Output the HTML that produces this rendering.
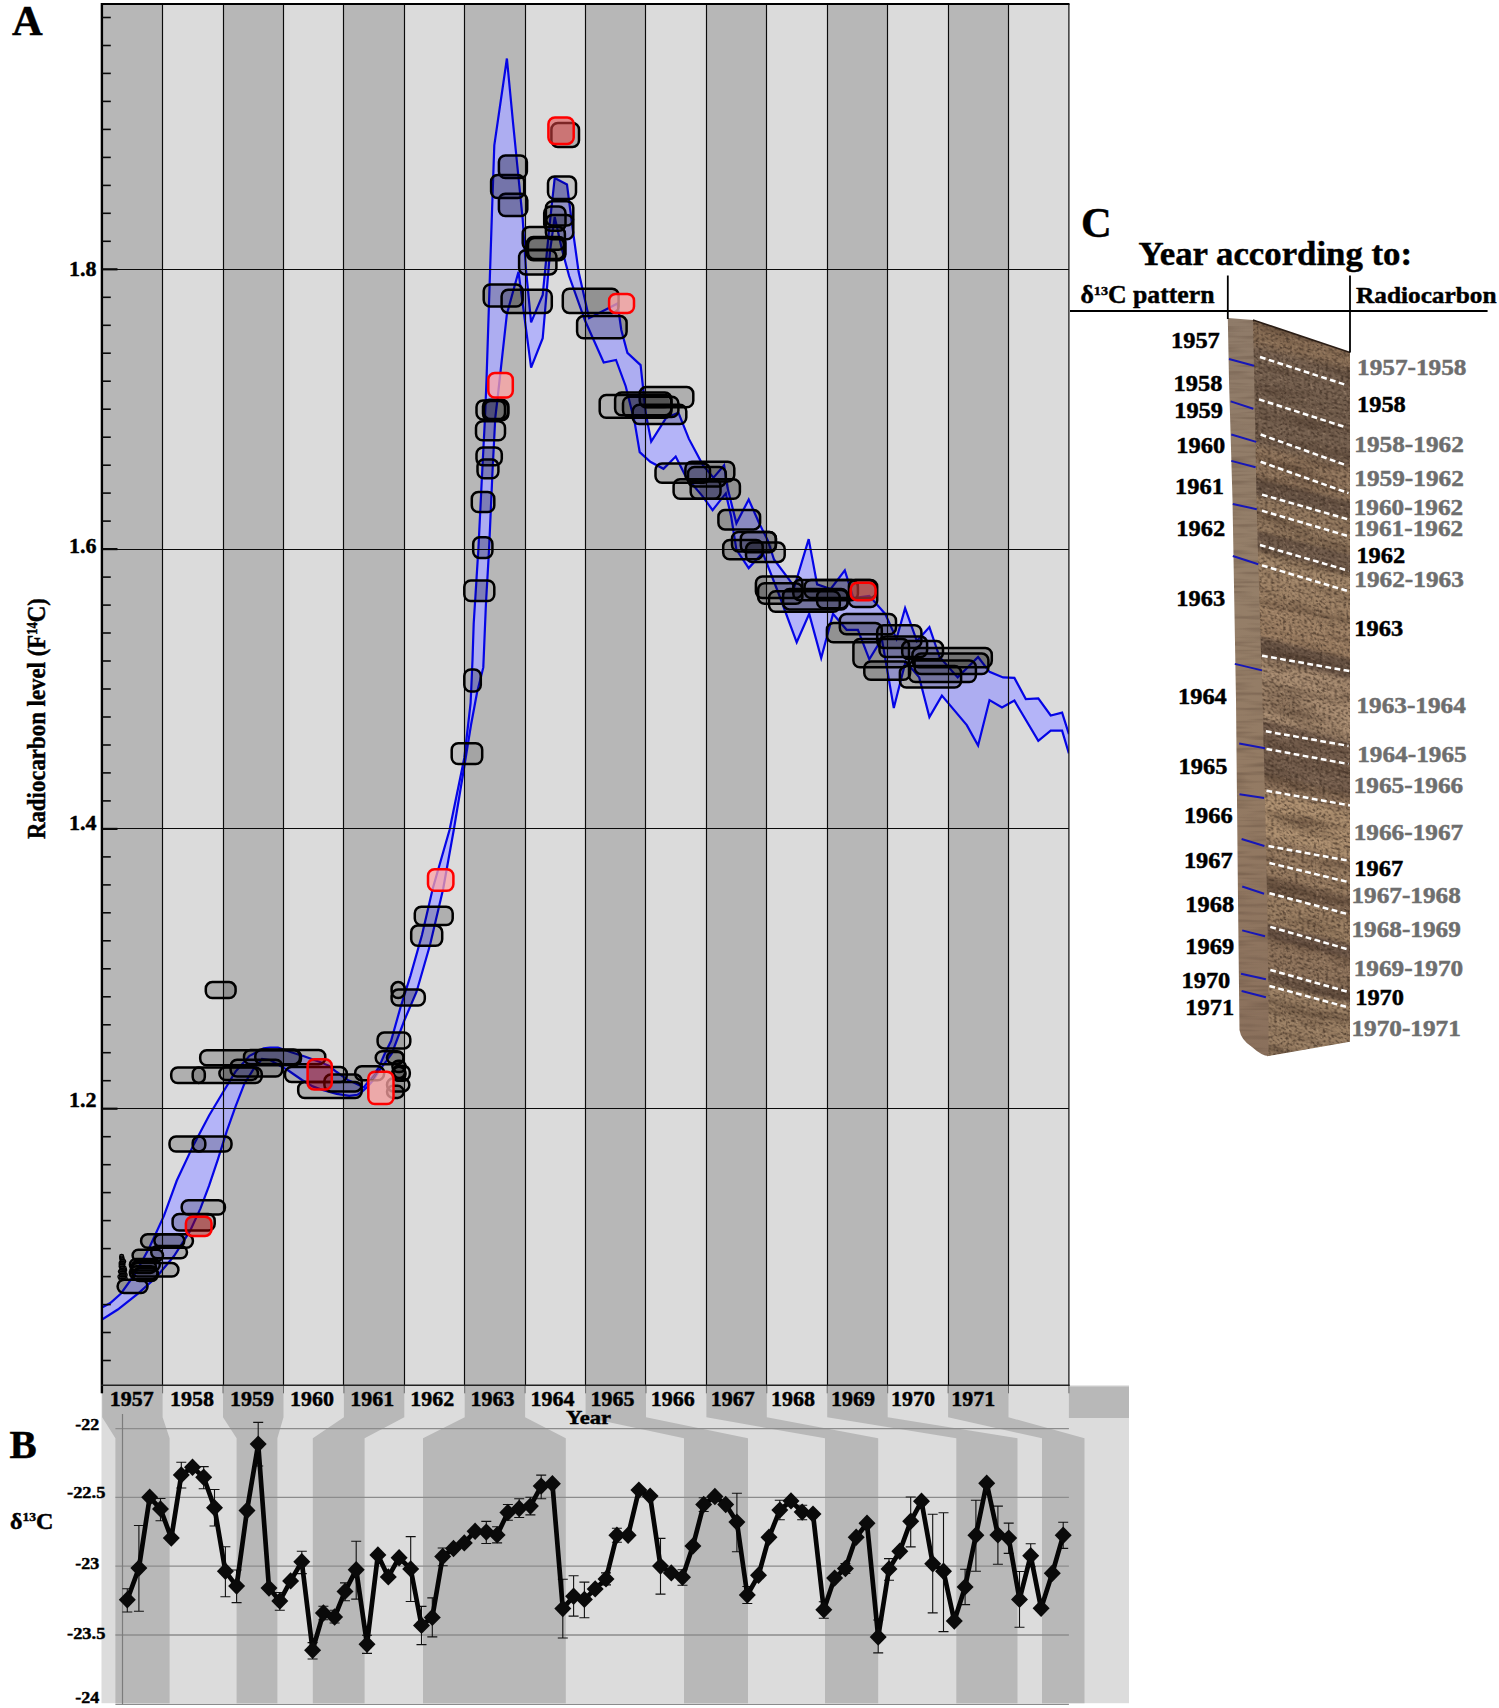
<!DOCTYPE html><html><head><meta charset="utf-8"><title>Figure</title><style>html,body{margin:0;padding:0;background:#fff}svg{display:block}text{font-family:"Liberation Serif",serif;font-weight:bold;fill:#000;stroke:#000;stroke-width:0.45px}</style></head><body>
<svg width="1499" height="1708" viewBox="0 0 1499 1708">
<rect width="1499" height="1708" fill="#fff"/>
<defs>
<clipPath id="cpA"><rect x="102.2" y="3.9" width="966.72" height="1381.3999999999999"/></clipPath>
<filter id="wood" x="0" y="0" width="100%" height="100%" color-interpolation-filters="sRGB"><feTurbulence type="fractalNoise" baseFrequency="0.33 0.42" numOctaves="2" seed="11" result="n"/><feTurbulence type="fractalNoise" baseFrequency="0.012 0.085" numOctaves="3" seed="5" result="n2"/><feColorMatrix in="n2" type="matrix" values="0 0 0 0 0  0 0 0 0 0  0 0 0 0 0  2.6 0 0 0 -1.22" result="a3"/><feFlood flood-color="#3c2a1e" flood-opacity="0.45" result="f3"/><feComposite in="f3" in2="a3" operator="in" result="sp3"/><feColorMatrix in="n" type="matrix" values="0 0 0 0 0  0 0 0 0 0  0 0 0 0 0  3.2 0 0 0 -1.45" result="a"/><feFlood flood-color="#35261c" flood-opacity="0.7" result="f"/><feComposite in="f" in2="a" operator="in" result="sp"/><feColorMatrix in="n" type="matrix" values="0 0 0 0 0  0 0 0 0 0  0 0 0 0 0  0 -3.2 0 0 1.35" result="a2"/><feFlood flood-color="#c9ad90" flood-opacity="0.5" result="f2"/><feComposite in="f2" in2="a2" operator="in" result="sp2"/><feMerge result="m"><feMergeNode in="SourceGraphic"/><feMergeNode in="sp3"/><feMergeNode in="sp2"/><feMergeNode in="sp"/></feMerge><feGaussianBlur in="m" stdDeviation="0.55"/></filter>
<filter id="strip" x="0" y="0" width="100%" height="100%" color-interpolation-filters="sRGB"><feTurbulence type="fractalNoise" baseFrequency="0.02 0.25" numOctaves="2" seed="3" result="n"/><feColorMatrix in="n" type="matrix" values="0 0 0 0 0  0 0 0 0 0  0 0 0 0 0  1.0 0 0 0 -0.45" result="a"/><feFlood flood-color="#5a4638" result="f"/><feComposite in="f" in2="a" operator="in" result="sp"/><feMerge><feMergeNode in="SourceGraphic"/><feMergeNode in="sp"/></feMerge></filter>
</defs>
<rect x="102.20" y="3.9" width="60.72" height="1381.4" fill="#b7b7b7"/>
<rect x="162.62" y="3.9" width="60.72" height="1381.4" fill="#dbdbdb"/>
<rect x="223.04" y="3.9" width="60.72" height="1381.4" fill="#b7b7b7"/>
<rect x="283.46" y="3.9" width="60.72" height="1381.4" fill="#dbdbdb"/>
<rect x="343.88" y="3.9" width="60.72" height="1381.4" fill="#b7b7b7"/>
<rect x="404.30" y="3.9" width="60.72" height="1381.4" fill="#dbdbdb"/>
<rect x="464.72" y="3.9" width="60.72" height="1381.4" fill="#b7b7b7"/>
<rect x="525.14" y="3.9" width="60.72" height="1381.4" fill="#dbdbdb"/>
<rect x="585.56" y="3.9" width="60.72" height="1381.4" fill="#b7b7b7"/>
<rect x="645.98" y="3.9" width="60.72" height="1381.4" fill="#dbdbdb"/>
<rect x="706.40" y="3.9" width="60.72" height="1381.4" fill="#b7b7b7"/>
<rect x="766.82" y="3.9" width="60.72" height="1381.4" fill="#dbdbdb"/>
<rect x="827.24" y="3.9" width="60.72" height="1381.4" fill="#b7b7b7"/>
<rect x="887.66" y="3.9" width="60.72" height="1381.4" fill="#dbdbdb"/>
<rect x="948.08" y="3.9" width="60.72" height="1381.4" fill="#b7b7b7"/>
<rect x="1008.50" y="3.9" width="60.72" height="1381.4" fill="#dbdbdb"/>
<rect x="101.5" y="1385.3" width="1027.5" height="317.9000000000001" fill="#dcdcdc"/>
<path d="M102.2,1385.3 L162.6,1385.3 L162.6,1417.3 L169.6,1438.3 L169.6,1703.2 L115.4,1703.2 L115.4,1438.3 L102.2,1417.3 Z" fill="#b8b8b8"/>
<path d="M223.0,1385.3 L283.5,1385.3 L283.5,1417.3 L277.4,1438.3 L277.4,1703.2 L236.6,1703.2 L236.6,1438.3 L223.0,1417.3 Z" fill="#b8b8b8"/>
<path d="M343.9,1385.3 L404.3,1385.3 L404.3,1417.3 L364.6,1438.3 L364.6,1703.2 L312.8,1703.2 L312.8,1438.3 L343.9,1417.3 Z" fill="#b8b8b8"/>
<path d="M464.7,1385.3 L525.1,1385.3 L525.1,1417.3 L565.8,1438.3 L565.8,1703.2 L423,1703.2 L423,1438.3 L464.7,1417.3 Z" fill="#b8b8b8"/>
<path d="M585.6,1385.3 L646.0,1385.3 L646.0,1417.3 L748,1438.3 L748,1703.2 L684,1703.2 L684,1438.3 L585.6,1417.3 Z" fill="#b8b8b8"/>
<path d="M706.4,1385.3 L766.8,1385.3 L766.8,1417.3 L878.2,1438.3 L878.2,1703.2 L825,1703.2 L825,1438.3 L706.4,1417.3 Z" fill="#b8b8b8"/>
<path d="M827.2,1385.3 L887.7,1385.3 L887.7,1417.3 L1017.5,1438.3 L1017.5,1703.2 L956.3,1703.2 L956.3,1438.3 L827.2,1417.3 Z" fill="#b8b8b8"/>
<path d="M948.1,1385.3 L1008.5,1385.3 L1008.5,1417.3 L1084.5,1438.3 L1084.5,1703.2 L1042,1703.2 L1042,1438.3 L948.1,1417.3 Z" fill="#b8b8b8"/>
<rect x="1068.9" y="1386.5" width="60.1" height="31.5" fill="#b8b8b8"/>
<line x1="102.2" y1="1385.3" x2="102.2" y2="1393.3" stroke="#6a6a6a" stroke-width="1"/>
<line x1="162.6" y1="1385.3" x2="162.6" y2="1393.3" stroke="#6a6a6a" stroke-width="1"/>
<line x1="223.0" y1="1385.3" x2="223.0" y2="1393.3" stroke="#6a6a6a" stroke-width="1"/>
<line x1="283.5" y1="1385.3" x2="283.5" y2="1393.3" stroke="#6a6a6a" stroke-width="1"/>
<line x1="343.9" y1="1385.3" x2="343.9" y2="1393.3" stroke="#6a6a6a" stroke-width="1"/>
<line x1="404.3" y1="1385.3" x2="404.3" y2="1393.3" stroke="#6a6a6a" stroke-width="1"/>
<line x1="464.7" y1="1385.3" x2="464.7" y2="1393.3" stroke="#6a6a6a" stroke-width="1"/>
<line x1="525.1" y1="1385.3" x2="525.1" y2="1393.3" stroke="#6a6a6a" stroke-width="1"/>
<line x1="585.6" y1="1385.3" x2="585.6" y2="1393.3" stroke="#6a6a6a" stroke-width="1"/>
<line x1="646.0" y1="1385.3" x2="646.0" y2="1393.3" stroke="#6a6a6a" stroke-width="1"/>
<line x1="706.4" y1="1385.3" x2="706.4" y2="1393.3" stroke="#6a6a6a" stroke-width="1"/>
<line x1="766.8" y1="1385.3" x2="766.8" y2="1393.3" stroke="#6a6a6a" stroke-width="1"/>
<line x1="827.2" y1="1385.3" x2="827.2" y2="1393.3" stroke="#6a6a6a" stroke-width="1"/>
<line x1="887.7" y1="1385.3" x2="887.7" y2="1393.3" stroke="#6a6a6a" stroke-width="1"/>
<line x1="948.1" y1="1385.3" x2="948.1" y2="1393.3" stroke="#6a6a6a" stroke-width="1"/>
<line x1="1008.5" y1="1385.3" x2="1008.5" y2="1393.3" stroke="#6a6a6a" stroke-width="1"/>
<line x1="1068.9" y1="1385.3" x2="1068.9" y2="1393.3" stroke="#6a6a6a" stroke-width="1"/>
<clipPath id="cpBand"><path d="M102.4,1307.2 L110.3,1303.1 L121.0,1293.5 L135.4,1273.5 L149.5,1247.2 L164.0,1215.6 L176.8,1180.5 L193.3,1145.4 L209.1,1115.5 L222.7,1092.7 L235.5,1071.6 L249.5,1055.8 L263.6,1048.4 L270.0,1047.5 L278.0,1047.5 L291.3,1052.3 L304.7,1056.5 L318.0,1061.3 L328.7,1065.6 L336.7,1072.0 L347.7,1079.9 L357.4,1084.2 L363.8,1087.4 L368.0,1082.0 L373.4,1075.0 L378.7,1067.6 L384.0,1055.3 L391.0,1041.0 L400.5,1007.4 L410.5,975.6 L422.0,935.0 L432.7,888.7 L449.6,829.7 L464.3,758.0 L470.6,703.2 L472.5,660.0 L473.7,623.5 L478.4,548.6 L482.1,473.7 L485.0,417.5 L486.5,380.0 L489.0,303.4 L492.1,208.6 L494.3,145.4 L506.9,58.5 L513.2,124.3 L517.4,166.4 L522.7,219.1 L526.0,269.7 L531.1,322.4 L542.7,295.0 L549.1,229.7 L554.7,178.0 L567.0,184.4 L572.2,225.5 L578.6,271.8 L589.1,318.2 L617.5,303.4 L621.3,330.0 L627.4,352.8 L640.6,365.1 L645.9,414.0 L651.2,441.6 L666.1,417.8 L678.4,412.6 L688.9,438.9 L703.0,465.3 L713.5,477.6 L724.1,465.3 L727.6,488.1 L736.4,523.3 L748.7,499.5 L759.2,523.3 L768.0,540.8 L774.0,559.5 L794.4,586.7 L808.7,539.1 L817.1,584.4 L830.7,589.0 L844.8,570.4 L853.4,598.0 L869.3,595.8 L885.2,613.9 L896.5,638.9 L905.1,608.2 L916.9,641.1 L929.4,627.1 L939.6,657.0 L957.7,677.4 L978.1,657.0 L989.5,671.8 L1003.1,677.4 L1014.4,677.9 L1025.8,699.0 L1038.3,698.3 L1050.7,715.5 L1062.1,712.6 L1068.9,734.1 L1068.9,753.4 L1062.1,730.7 L1050.7,730.7 L1038.3,740.9 L1014.4,700.6 L1002.0,707.4 L989.5,700.1 L978.1,745.5 L966.8,725.1 L941.9,695.6 L929.4,717.1 L919.2,677.4 L905.6,661.5 L893.8,708.0 L881.8,638.9 L869.3,659.3 L857.9,629.8 L846.6,629.8 L833.0,613.9 L821.2,658.1 L809.2,613.9 L796.7,642.3 L778.6,593.5 L762.7,552.7 L748.7,568.1 L736.4,549.6 L731.1,516.2 L725.8,493.4 L712.6,510.1 L703.0,496.9 L685.4,475.8 L675.7,456.5 L663.5,468.8 L650.3,461.8 L639.7,452.1 L634.5,421.4 L625.7,386.2 L616.0,359.9 L603.7,362.5 L584.9,320.3 L569.1,276.0 L561.7,248.6 L554.7,217.0 L550.1,250.7 L544.8,314.0 L542.7,338.2 L531.1,367.7 L518.5,271.8 L506.9,314.0 L497.4,400.0 L495.3,417.5 L492.4,473.7 L489.1,548.6 L485.9,604.8 L483.3,667.4 L477.0,692.7 L471.0,725.0 L464.3,766.5 L453.8,829.7 L443.2,888.7 L430.0,945.0 L416.5,992.0 L404.5,1020.0 L392.0,1053.2 L386.7,1060.7 L381.4,1067.6 L373.4,1079.9 L368.0,1086.3 L362.7,1091.1 L357.4,1094.8 L349.3,1095.9 L336.7,1093.9 L323.4,1090.2 L312.7,1086.4 L302.0,1080.0 L287.6,1070.0 L270.0,1060.0 L262.0,1059.0 L253.0,1069.9 L244.3,1083.9 L235.5,1106.7 L226.7,1131.3 L217.9,1159.4 L209.1,1185.7 L200.4,1208.6 L189.8,1231.4 L174.0,1256.0 L156.5,1277.0 L138.9,1292.8 L117.8,1309.5 L102.4,1319.2 Z"/></clipPath>
<g clip-path="url(#cpA)">
<path d="M102.4,1307.2 L110.3,1303.1 L121.0,1293.5 L135.4,1273.5 L149.5,1247.2 L164.0,1215.6 L176.8,1180.5 L193.3,1145.4 L209.1,1115.5 L222.7,1092.7 L235.5,1071.6 L249.5,1055.8 L263.6,1048.4 L270.0,1047.5 L278.0,1047.5 L291.3,1052.3 L304.7,1056.5 L318.0,1061.3 L328.7,1065.6 L336.7,1072.0 L347.7,1079.9 L357.4,1084.2 L363.8,1087.4 L368.0,1082.0 L373.4,1075.0 L378.7,1067.6 L384.0,1055.3 L391.0,1041.0 L400.5,1007.4 L410.5,975.6 L422.0,935.0 L432.7,888.7 L449.6,829.7 L464.3,758.0 L470.6,703.2 L472.5,660.0 L473.7,623.5 L478.4,548.6 L482.1,473.7 L485.0,417.5 L486.5,380.0 L489.0,303.4 L492.1,208.6 L494.3,145.4 L506.9,58.5 L513.2,124.3 L517.4,166.4 L522.7,219.1 L526.0,269.7 L531.1,322.4 L542.7,295.0 L549.1,229.7 L554.7,178.0 L567.0,184.4 L572.2,225.5 L578.6,271.8 L589.1,318.2 L617.5,303.4 L621.3,330.0 L627.4,352.8 L640.6,365.1 L645.9,414.0 L651.2,441.6 L666.1,417.8 L678.4,412.6 L688.9,438.9 L703.0,465.3 L713.5,477.6 L724.1,465.3 L727.6,488.1 L736.4,523.3 L748.7,499.5 L759.2,523.3 L768.0,540.8 L774.0,559.5 L794.4,586.7 L808.7,539.1 L817.1,584.4 L830.7,589.0 L844.8,570.4 L853.4,598.0 L869.3,595.8 L885.2,613.9 L896.5,638.9 L905.1,608.2 L916.9,641.1 L929.4,627.1 L939.6,657.0 L957.7,677.4 L978.1,657.0 L989.5,671.8 L1003.1,677.4 L1014.4,677.9 L1025.8,699.0 L1038.3,698.3 L1050.7,715.5 L1062.1,712.6 L1068.9,734.1 L1068.9,753.4 L1062.1,730.7 L1050.7,730.7 L1038.3,740.9 L1014.4,700.6 L1002.0,707.4 L989.5,700.1 L978.1,745.5 L966.8,725.1 L941.9,695.6 L929.4,717.1 L919.2,677.4 L905.6,661.5 L893.8,708.0 L881.8,638.9 L869.3,659.3 L857.9,629.8 L846.6,629.8 L833.0,613.9 L821.2,658.1 L809.2,613.9 L796.7,642.3 L778.6,593.5 L762.7,552.7 L748.7,568.1 L736.4,549.6 L731.1,516.2 L725.8,493.4 L712.6,510.1 L703.0,496.9 L685.4,475.8 L675.7,456.5 L663.5,468.8 L650.3,461.8 L639.7,452.1 L634.5,421.4 L625.7,386.2 L616.0,359.9 L603.7,362.5 L584.9,320.3 L569.1,276.0 L561.7,248.6 L554.7,217.0 L550.1,250.7 L544.8,314.0 L542.7,338.2 L531.1,367.7 L518.5,271.8 L506.9,314.0 L497.4,400.0 L495.3,417.5 L492.4,473.7 L489.1,548.6 L485.9,604.8 L483.3,667.4 L477.0,692.7 L471.0,725.0 L464.3,766.5 L453.8,829.7 L443.2,888.7 L430.0,945.0 L416.5,992.0 L404.5,1020.0 L392.0,1053.2 L386.7,1060.7 L381.4,1067.6 L373.4,1079.9 L368.0,1086.3 L362.7,1091.1 L357.4,1094.8 L349.3,1095.9 L336.7,1093.9 L323.4,1090.2 L312.7,1086.4 L302.0,1080.0 L287.6,1070.0 L270.0,1060.0 L262.0,1059.0 L253.0,1069.9 L244.3,1083.9 L235.5,1106.7 L226.7,1131.3 L217.9,1159.4 L209.1,1185.7 L200.4,1208.6 L189.8,1231.4 L174.0,1256.0 L156.5,1277.0 L138.9,1292.8 L117.8,1309.5 L102.4,1319.2 Z" fill="#aaaaff" fill-opacity="0.8" stroke="none"/>
<polyline points="102.4,1307.2 110.3,1303.1 121.0,1293.5 135.4,1273.5 149.5,1247.2 164.0,1215.6 176.8,1180.5 193.3,1145.4 209.1,1115.5 222.7,1092.7 235.5,1071.6 249.5,1055.8 263.6,1048.4 270.0,1047.5 278.0,1047.5 291.3,1052.3 304.7,1056.5 318.0,1061.3 328.7,1065.6 336.7,1072.0 347.7,1079.9 357.4,1084.2 363.8,1087.4 368.0,1082.0 373.4,1075.0 378.7,1067.6 384.0,1055.3 391.0,1041.0 400.5,1007.4 410.5,975.6 422.0,935.0 432.7,888.7 449.6,829.7 464.3,758.0 470.6,703.2 472.5,660.0 473.7,623.5 478.4,548.6 482.1,473.7 485.0,417.5 486.5,380.0 489.0,303.4 492.1,208.6 494.3,145.4 506.9,58.5 513.2,124.3 517.4,166.4 522.7,219.1 526.0,269.7 531.1,322.4 542.7,295.0 549.1,229.7 554.7,178.0 567.0,184.4 572.2,225.5 578.6,271.8 589.1,318.2 617.5,303.4 621.3,330.0 627.4,352.8 640.6,365.1 645.9,414.0 651.2,441.6 666.1,417.8 678.4,412.6 688.9,438.9 703.0,465.3 713.5,477.6 724.1,465.3 727.6,488.1 736.4,523.3 748.7,499.5 759.2,523.3 768.0,540.8 774.0,559.5 794.4,586.7 808.7,539.1 817.1,584.4 830.7,589.0 844.8,570.4 853.4,598.0 869.3,595.8 885.2,613.9 896.5,638.9 905.1,608.2 916.9,641.1 929.4,627.1 939.6,657.0 957.7,677.4 978.1,657.0 989.5,671.8 1003.1,677.4 1014.4,677.9 1025.8,699.0 1038.3,698.3 1050.7,715.5 1062.1,712.6 1068.9,734.1" fill="none" stroke="#0505e6" stroke-width="2.2" stroke-linejoin="miter"/>
<polyline points="102.4,1319.2 117.8,1309.5 138.9,1292.8 156.5,1277.0 174.0,1256.0 189.8,1231.4 200.4,1208.6 209.1,1185.7 217.9,1159.4 226.7,1131.3 235.5,1106.7 244.3,1083.9 253.0,1069.9 262.0,1059.0 270.0,1060.0 287.6,1070.0 302.0,1080.0 312.7,1086.4 323.4,1090.2 336.7,1093.9 349.3,1095.9 357.4,1094.8 362.7,1091.1 368.0,1086.3 373.4,1079.9 381.4,1067.6 386.7,1060.7 392.0,1053.2 404.5,1020.0 416.5,992.0 430.0,945.0 443.2,888.7 453.8,829.7 464.3,766.5 471.0,725.0 477.0,692.7 483.3,667.4 485.9,604.8 489.1,548.6 492.4,473.7 495.3,417.5 497.4,400.0 506.9,314.0 518.5,271.8 531.1,367.7 542.7,338.2 544.8,314.0 550.1,250.7 554.7,217.0 561.7,248.6 569.1,276.0 584.9,320.3 603.7,362.5 616.0,359.9 625.7,386.2 634.5,421.4 639.7,452.1 650.3,461.8 663.5,468.8 675.7,456.5 685.4,475.8 703.0,496.9 712.6,510.1 725.8,493.4 731.1,516.2 736.4,549.6 748.7,568.1 762.7,552.7 778.6,593.5 796.7,642.3 809.2,613.9 821.2,658.1 833.0,613.9 846.6,629.8 857.9,629.8 869.3,659.3 881.8,638.9 893.8,708.0 905.6,661.5 919.2,677.4 929.4,717.1 941.9,695.6 966.8,725.1 978.1,745.5 989.5,700.1 1002.0,707.4 1014.4,700.6 1038.3,740.9 1050.7,730.7 1062.1,730.7 1068.9,753.4" fill="none" stroke="#0505e6" stroke-width="2.2" stroke-linejoin="miter"/>
</g>
<line x1="162.50" y1="3.9" x2="162.50" y2="1385.3" stroke="#0a0a0a" stroke-width="1.15"/>
<line x1="223.50" y1="3.9" x2="223.50" y2="1385.3" stroke="#0a0a0a" stroke-width="1.15"/>
<line x1="283.50" y1="3.9" x2="283.50" y2="1385.3" stroke="#0a0a0a" stroke-width="1.15"/>
<line x1="343.50" y1="3.9" x2="343.50" y2="1385.3" stroke="#0a0a0a" stroke-width="1.15"/>
<line x1="404.50" y1="3.9" x2="404.50" y2="1385.3" stroke="#0a0a0a" stroke-width="1.15"/>
<line x1="464.50" y1="3.9" x2="464.50" y2="1385.3" stroke="#0a0a0a" stroke-width="1.15"/>
<line x1="525.50" y1="3.9" x2="525.50" y2="1385.3" stroke="#0a0a0a" stroke-width="1.15"/>
<line x1="585.50" y1="3.9" x2="585.50" y2="1385.3" stroke="#0a0a0a" stroke-width="1.15"/>
<line x1="645.50" y1="3.9" x2="645.50" y2="1385.3" stroke="#0a0a0a" stroke-width="1.15"/>
<line x1="706.50" y1="3.9" x2="706.50" y2="1385.3" stroke="#0a0a0a" stroke-width="1.15"/>
<line x1="766.50" y1="3.9" x2="766.50" y2="1385.3" stroke="#0a0a0a" stroke-width="1.15"/>
<line x1="827.50" y1="3.9" x2="827.50" y2="1385.3" stroke="#0a0a0a" stroke-width="1.15"/>
<line x1="887.50" y1="3.9" x2="887.50" y2="1385.3" stroke="#0a0a0a" stroke-width="1.15"/>
<line x1="948.50" y1="3.9" x2="948.50" y2="1385.3" stroke="#0a0a0a" stroke-width="1.15"/>
<line x1="1008.50" y1="3.9" x2="1008.50" y2="1385.3" stroke="#0a0a0a" stroke-width="1.15"/>
<line x1="102.2" y1="1108.5" x2="1068.9" y2="1108.5" stroke="#0a0a0a" stroke-width="1.15"/>
<line x1="102.2" y1="828.5" x2="1068.9" y2="828.5" stroke="#0a0a0a" stroke-width="1.15"/>
<line x1="102.2" y1="549.5" x2="1068.9" y2="549.5" stroke="#0a0a0a" stroke-width="1.15"/>
<line x1="102.2" y1="269.5" x2="1068.9" y2="269.5" stroke="#0a0a0a" stroke-width="1.15"/>
<rect x="181.7" y="1200.2" width="43.2" height="14.4" rx="6.5" fill="rgba(0,0,0,0.2)" stroke="#000" stroke-width="2.5"/>
<rect x="172.6" y="1214.0" width="42.1" height="16.6" rx="6.5" fill="rgba(0,0,0,0.2)" stroke="#000" stroke-width="2.5"/>
<rect x="141.1" y="1234.3" width="51.8" height="13.4" rx="6.5" fill="rgba(0,0,0,0.2)" stroke="#000" stroke-width="2.5"/>
<rect x="154.4" y="1234.3" width="29.9" height="12.8" rx="6.4" fill="rgba(0,0,0,0.2)" stroke="#000" stroke-width="2.5"/>
<rect x="151.2" y="1246.1" width="35.8" height="12.2" rx="6.1" fill="rgba(0,0,0,0.2)" stroke="#000" stroke-width="2.5"/>
<rect x="132.6" y="1249.8" width="30.4" height="11.2" rx="5.6" fill="rgba(0,0,0,0.2)" stroke="#000" stroke-width="2.5"/>
<rect x="129.9" y="1258.9" width="29.9" height="11.7" rx="5.8" fill="rgba(0,0,0,0.2)" stroke="#000" stroke-width="2.5"/>
<rect x="131.0" y="1263.1" width="47.4" height="13.4" rx="6.5" fill="rgba(0,0,0,0.2)" stroke="#000" stroke-width="2.5"/>
<rect x="129.9" y="1266.3" width="27.7" height="12.9" rx="6.5" fill="rgba(0,0,0,0.2)" stroke="#000" stroke-width="2.5"/>
<rect x="131.5" y="1261.0" width="24.5" height="12.0" rx="6.0" fill="rgba(0,0,0,0.2)" stroke="#000" stroke-width="2.5"/>
<rect x="133.0" y="1268.0" width="25.0" height="13.0" rx="6.5" fill="rgba(0,0,0,0.2)" stroke="#000" stroke-width="2.5"/>
<rect x="117.6" y="1279.7" width="29.9" height="13.3" rx="6.5" fill="rgba(0,0,0,0.2)" stroke="#000" stroke-width="2.5"/>
<rect x="169.5" y="1136.5" width="62.0" height="15.0" rx="6.5" fill="rgba(0,0,0,0.2)" stroke="#000" stroke-width="2.5"/>
<rect x="192.7" y="1136.5" width="12.6" height="15.0" rx="6.3" fill="rgba(0,0,0,0.2)" stroke="#000" stroke-width="2.5"/>
<rect x="205.8" y="982.1" width="29.8" height="15.9" rx="6.5" fill="rgba(0,0,0,0.2)" stroke="#000" stroke-width="2.5"/>
<rect x="200.2" y="1050.3" width="100.8" height="15.0" rx="6.5" fill="rgba(0,0,0,0.2)" stroke="#000" stroke-width="2.5"/>
<rect x="244.0" y="1050.0" width="81.3" height="14.3" rx="6.5" fill="rgba(0,0,0,0.2)" stroke="#000" stroke-width="2.5"/>
<rect x="255.3" y="1049.4" width="44.7" height="14.9" rx="6.5" fill="rgba(0,0,0,0.2)" stroke="#000" stroke-width="2.5"/>
<rect x="171.2" y="1067.5" width="90.6" height="15.5" rx="6.5" fill="rgba(0,0,0,0.2)" stroke="#000" stroke-width="2.5"/>
<rect x="192.7" y="1067.5" width="12.1" height="15.5" rx="6.1" fill="rgba(0,0,0,0.2)" stroke="#000" stroke-width="2.5"/>
<rect x="219.4" y="1067.0" width="38.6" height="13.0" rx="6.5" fill="rgba(0,0,0,0.2)" stroke="#000" stroke-width="2.5"/>
<rect x="230.6" y="1059.7" width="51.7" height="16.8" rx="6.5" fill="rgba(0,0,0,0.2)" stroke="#000" stroke-width="2.5"/>
<rect x="285.0" y="1067.0" width="61.8" height="15.0" rx="6.5" fill="rgba(0,0,0,0.2)" stroke="#000" stroke-width="2.5"/>
<rect x="298.2" y="1082.0" width="63.5" height="16.0" rx="6.5" fill="rgba(0,0,0,0.2)" stroke="#000" stroke-width="2.5"/>
<rect x="324.4" y="1074.6" width="37.3" height="16.8" rx="6.5" fill="rgba(0,0,0,0.2)" stroke="#000" stroke-width="2.5"/>
<rect x="355.2" y="1066.2" width="28.9" height="14.0" rx="6.5" fill="rgba(0,0,0,0.1)" stroke="#000" stroke-width="2.5"/>
<rect x="377.6" y="1032.6" width="32.7" height="15.8" rx="6.5" fill="rgba(0,0,0,0.1)" stroke="#000" stroke-width="2.5"/>
<rect x="375.7" y="1051.2" width="28.0" height="13.1" rx="6.5" fill="rgba(0,0,0,0.1)" stroke="#000" stroke-width="2.5"/>
<rect x="387.0" y="1052.0" width="16.7" height="11.5" rx="5.8" fill="rgba(0,0,0,0.2)" stroke="#000" stroke-width="2.5"/>
<rect x="391.6" y="982.1" width="13.1" height="15.9" rx="6.5" fill="rgba(0,0,0,0.1)" stroke="#000" stroke-width="2.5"/>
<rect x="391.6" y="989.6" width="33.2" height="15.9" rx="6.5" fill="rgba(0,0,0,0.1)" stroke="#000" stroke-width="2.5"/>
<rect x="392.4" y="1060.7" width="13.1" height="11.3" rx="5.6" fill="rgba(0,0,0,0.2)" stroke="#000" stroke-width="2.5"/>
<rect x="392.4" y="1066.7" width="13.1" height="14.1" rx="6.5" fill="rgba(0,0,0,0.2)" stroke="#000" stroke-width="2.5"/>
<rect x="393.5" y="1066.0" width="11.5" height="12.0" rx="5.8" fill="rgba(0,0,0,0.2)" stroke="#000" stroke-width="2.5"/>
<rect x="392.4" y="1065.8" width="17.4" height="15.0" rx="6.5" fill="rgba(0,0,0,0.1)" stroke="#000" stroke-width="2.5"/>
<rect x="387.0" y="1078.3" width="22.3" height="13.1" rx="6.5" fill="rgba(0,0,0,0.2)" stroke="#000" stroke-width="2.5"/>
<rect x="387.0" y="1085.8" width="16.7" height="12.1" rx="6.1" fill="rgba(0,0,0,0.2)" stroke="#000" stroke-width="2.5"/>
<rect x="464.3" y="669.5" width="16.5" height="22.1" rx="6.5" fill="rgba(0,0,0,0.03)" stroke="#000" stroke-width="2.5"/>
<rect x="451.7" y="743.3" width="30.5" height="20.7" rx="6.5" fill="rgba(0,0,0,0.1)" stroke="#000" stroke-width="2.5"/>
<rect x="414.8" y="906.7" width="37.9" height="18.3" rx="6.5" fill="rgba(0,0,0,0.2)" stroke="#000" stroke-width="2.5"/>
<rect x="411.2" y="925.6" width="31.0" height="20.1" rx="6.5" fill="rgba(0,0,0,0.2)" stroke="#000" stroke-width="2.5"/>
<rect x="476.5" y="400.5" width="28.5" height="19.0" rx="6.5" fill="rgba(0,0,0,0.03)" stroke="#000" stroke-width="2.5"/>
<rect x="483.0" y="399.7" width="25.4" height="20.6" rx="6.5" fill="rgba(0,0,0,0.2)" stroke="#000" stroke-width="2.5"/>
<rect x="484.0" y="401.0" width="24.0" height="18.0" rx="6.5" fill="rgba(0,0,0,0.2)" stroke="#000" stroke-width="2.5"/>
<rect x="476.0" y="421.2" width="29.0" height="19.1" rx="6.5" fill="rgba(0,0,0,0.03)" stroke="#000" stroke-width="2.5"/>
<rect x="476.5" y="447.4" width="25.3" height="17.8" rx="6.5" fill="rgba(0,0,0,0.03)" stroke="#000" stroke-width="2.5"/>
<rect x="477.5" y="459.6" width="20.9" height="18.7" rx="6.5" fill="rgba(0,0,0,0.03)" stroke="#000" stroke-width="2.5"/>
<rect x="471.8" y="492.0" width="22.5" height="20.0" rx="6.5" fill="rgba(0,0,0,0.03)" stroke="#000" stroke-width="2.5"/>
<rect x="473.2" y="537.3" width="19.2" height="20.6" rx="6.5" fill="rgba(0,0,0,0.03)" stroke="#000" stroke-width="2.5"/>
<rect x="464.3" y="580.4" width="30.0" height="20.6" rx="6.5" fill="rgba(0,0,0,0.03)" stroke="#000" stroke-width="2.5"/>
<rect x="551.4" y="122.9" width="27.6" height="24.0" rx="6.5" fill="rgba(0,0,0,0.2)" stroke="#000" stroke-width="2.5"/>
<rect x="498.9" y="155.5" width="28.0" height="22.5" rx="6.5" fill="rgba(0,0,0,0.1)" stroke="#000" stroke-width="2.5"/>
<rect x="491.1" y="174.9" width="33.1" height="23.2" rx="6.5" fill="rgba(0,0,0,0.1)" stroke="#000" stroke-width="2.5"/>
<rect x="498.9" y="193.8" width="28.4" height="22.2" rx="6.5" fill="rgba(0,0,0,0.1)" stroke="#000" stroke-width="2.5"/>
<rect x="548.0" y="176.6" width="28.0" height="22.5" rx="6.5" fill="rgba(0,0,0,0.1)" stroke="#000" stroke-width="2.5"/>
<rect x="545.9" y="201.2" width="27.4" height="24.3" rx="6.5" fill="rgba(0,0,0,0.2)" stroke="#000" stroke-width="2.5"/>
<rect x="544.2" y="206.5" width="21.3" height="24.2" rx="6.5" fill="rgba(0,0,0,0.2)" stroke="#000" stroke-width="2.5"/>
<rect x="545.9" y="214.9" width="27.4" height="24.3" rx="6.5" fill="rgba(0,0,0,0.2)" stroke="#000" stroke-width="2.5"/>
<rect x="522.7" y="227.1" width="42.2" height="22.6" rx="6.5" fill="rgba(0,0,0,0.2)" stroke="#000" stroke-width="2.5"/>
<rect x="526.9" y="237.0" width="38.6" height="23.2" rx="6.5" fill="rgba(0,0,0,0.2)" stroke="#000" stroke-width="2.5"/>
<rect x="528.0" y="238.0" width="36.0" height="21.0" rx="6.5" fill="rgba(0,0,0,0.2)" stroke="#000" stroke-width="2.5"/>
<rect x="519.1" y="250.3" width="37.3" height="24.1" rx="6.5" fill="rgba(0,0,0,0.2)" stroke="#000" stroke-width="2.5"/>
<rect x="483.7" y="284.5" width="39.0" height="22.1" rx="6.5" fill="rgba(0,0,0,0.2)" stroke="#000" stroke-width="2.5"/>
<rect x="501.6" y="289.7" width="50.2" height="23.2" rx="6.5" fill="rgba(0,0,0,0.2)" stroke="#000" stroke-width="2.5"/>
<rect x="562.8" y="288.7" width="55.8" height="24.2" rx="6.5" fill="rgba(0,0,0,0.2)" stroke="#000" stroke-width="2.5"/>
<rect x="577.1" y="316.1" width="49.5" height="22.1" rx="6.5" fill="rgba(0,0,0,0.2)" stroke="#000" stroke-width="2.5"/>
<rect x="599.7" y="395.0" width="71.7" height="22.8" rx="6.5" fill="rgba(0,0,0,0.03)" stroke="#000" stroke-width="2.5"/>
<rect x="615.1" y="392.4" width="56.3" height="22.8" rx="6.5" fill="rgba(0,0,0,0.2)" stroke="#000" stroke-width="2.5"/>
<rect x="623.0" y="396.8" width="55.4" height="20.2" rx="6.5" fill="rgba(0,0,0,0.2)" stroke="#000" stroke-width="2.5"/>
<rect x="639.7" y="387.1" width="53.6" height="20.2" rx="6.5" fill="rgba(0,0,0,0.2)" stroke="#000" stroke-width="2.5"/>
<rect x="632.7" y="404.7" width="53.6" height="19.3" rx="6.5" fill="rgba(0,0,0,0.2)" stroke="#000" stroke-width="2.5"/>
<rect x="639.7" y="396.8" width="30.3" height="12.2" rx="6.1" fill="rgba(0,0,0,0.22)" stroke="none" stroke-width="2.5"/>
<rect x="655.5" y="463.5" width="54.5" height="19.3" rx="6.5" fill="rgba(0,0,0,0.2)" stroke="#000" stroke-width="2.5"/>
<rect x="685.4" y="461.8" width="48.9" height="19.6" rx="6.5" fill="rgba(0,0,0,0.2)" stroke="#000" stroke-width="2.5"/>
<rect x="688.0" y="467.0" width="37.8" height="19.4" rx="6.5" fill="rgba(0,0,0,0.2)" stroke="#000" stroke-width="2.5"/>
<rect x="673.6" y="479.3" width="46.9" height="19.4" rx="6.5" fill="rgba(0,0,0,0.2)" stroke="#000" stroke-width="2.5"/>
<rect x="690.7" y="479.3" width="49.2" height="19.4" rx="6.5" fill="rgba(0,0,0,0.2)" stroke="#000" stroke-width="2.5"/>
<rect x="699.5" y="479.3" width="29.8" height="17.7" rx="6.5" fill="rgba(0,0,0,0.22)" stroke="none" stroke-width="2.5"/>
<rect x="718.4" y="510.1" width="41.7" height="19.3" rx="6.5" fill="rgba(0,0,0,0.2)" stroke="#000" stroke-width="2.5"/>
<rect x="732.0" y="532.0" width="43.9" height="19.4" rx="6.5" fill="rgba(0,0,0,0.2)" stroke="#000" stroke-width="2.5"/>
<rect x="740.8" y="532.0" width="35.1" height="20.2" rx="6.5" fill="rgba(0,0,0,0.2)" stroke="#000" stroke-width="2.5"/>
<rect x="723.2" y="540.0" width="39.5" height="19.3" rx="6.5" fill="rgba(0,0,0,0.2)" stroke="#000" stroke-width="2.5"/>
<rect x="746.0" y="542.6" width="38.7" height="19.3" rx="6.5" fill="rgba(0,0,0,0.2)" stroke="#000" stroke-width="2.5"/>
<rect x="746.0" y="541.0" width="26.0" height="11.0" rx="5.5" fill="rgba(0,0,0,0.22)" stroke="none" stroke-width="2.5"/>
<rect x="755.9" y="576.5" width="46.5" height="21.5" rx="6.5" fill="rgba(0,0,0,0.2)" stroke="#000" stroke-width="2.5"/>
<rect x="758.1" y="583.3" width="44.3" height="20.4" rx="6.5" fill="rgba(0,0,0,0.2)" stroke="#000" stroke-width="2.5"/>
<rect x="769.0" y="591.2" width="70.8" height="20.5" rx="6.5" fill="rgba(0,0,0,0.2)" stroke="#000" stroke-width="2.5"/>
<rect x="783.1" y="589.0" width="64.6" height="20.4" rx="6.5" fill="rgba(0,0,0,0.2)" stroke="#000" stroke-width="2.5"/>
<rect x="793.3" y="579.9" width="64.6" height="20.4" rx="6.5" fill="rgba(0,0,0,0.2)" stroke="#000" stroke-width="2.5"/>
<rect x="804.6" y="579.9" width="71.5" height="18.1" rx="6.5" fill="rgba(0,0,0,0.2)" stroke="#000" stroke-width="2.5"/>
<rect x="817.1" y="590.0" width="30.6" height="18.3" rx="6.5" fill="rgba(0,0,0,0.2)" stroke="#000" stroke-width="2.5"/>
<rect x="848.9" y="579.9" width="28.3" height="27.2" rx="6.5" fill="rgba(0,0,0,0.2)" stroke="#000" stroke-width="2.5"/>
<rect x="839.8" y="613.9" width="56.2" height="20.4" rx="6.5" fill="rgba(0,0,0,0.2)" stroke="#000" stroke-width="2.5"/>
<rect x="826.9" y="623.0" width="54.9" height="19.3" rx="6.5" fill="rgba(0,0,0,0.2)" stroke="#000" stroke-width="2.5"/>
<rect x="853.4" y="638.9" width="55.6" height="28.3" rx="6.5" fill="rgba(0,0,0,0.2)" stroke="#000" stroke-width="2.5"/>
<rect x="877.2" y="625.3" width="44.2" height="22.6" rx="6.5" fill="rgba(0,0,0,0.2)" stroke="#000" stroke-width="2.5"/>
<rect x="879.5" y="636.6" width="47.6" height="20.4" rx="6.5" fill="rgba(0,0,0,0.2)" stroke="#000" stroke-width="2.5"/>
<rect x="902.2" y="641.1" width="40.8" height="18.2" rx="6.5" fill="rgba(0,0,0,0.2)" stroke="#000" stroke-width="2.5"/>
<rect x="864.3" y="661.5" width="45.8" height="18.2" rx="6.5" fill="rgba(0,0,0,0.2)" stroke="#000" stroke-width="2.5"/>
<rect x="899.9" y="666.1" width="61.2" height="21.5" rx="6.5" fill="rgba(0,0,0,0.2)" stroke="#000" stroke-width="2.5"/>
<rect x="909.0" y="660.4" width="66.9" height="21.6" rx="6.5" fill="rgba(0,0,0,0.2)" stroke="#000" stroke-width="2.5"/>
<rect x="912.4" y="647.9" width="79.4" height="19.3" rx="6.5" fill="rgba(0,0,0,0.2)" stroke="#000" stroke-width="2.5"/>
<rect x="914.6" y="653.6" width="73.8" height="20.4" rx="6.5" fill="rgba(0,0,0,0.2)" stroke="#000" stroke-width="2.5"/>
<rect x="185.9" y="1216.7" width="25.6" height="19.2" rx="6.5" fill="rgba(170,0,0,0.45)" stroke="#f00" stroke-width="2.5"/>
<rect x="307.6" y="1059.3" width="24.2" height="30.2" rx="6.5" fill="rgba(170,0,0,0.45)" stroke="#f00" stroke-width="2.5"/>
<rect x="368.3" y="1071.8" width="25.2" height="32.3" rx="6.5" fill="rgba(255,165,165,0.74)" stroke="#f00" stroke-width="2.5"/>
<rect x="428.0" y="869.3" width="25.4" height="21.5" rx="6.5" fill="rgba(255,165,165,0.74)" stroke="#f00" stroke-width="2.5"/>
<rect x="488.3" y="373.0" width="24.5" height="24.5" rx="6.5" fill="rgba(255,165,165,0.74)" stroke="#f00" stroke-width="2.5"/>
<rect x="548.4" y="117.4" width="25.3" height="26.5" rx="6.5" fill="rgba(225,70,70,0.55)" stroke="#f00" stroke-width="2.5"/>
<rect x="609.1" y="294.0" width="24.9" height="18.9" rx="6.5" fill="rgba(255,165,165,0.74)" stroke="#f00" stroke-width="2.5"/>
<rect x="850.7" y="582.8" width="24.9" height="17.5" rx="6.5" fill="rgba(225,70,70,0.55)" stroke="#f00" stroke-width="2.5"/>
<g clip-path="url(#cpBand)">
<rect x="355.2" y="1066.2" width="28.9" height="14.0" rx="6.5" fill="rgba(0,0,30,0.25)"/>
<rect x="377.6" y="1032.6" width="32.7" height="15.8" rx="6.5" fill="rgba(0,0,30,0.25)"/>
<rect x="375.7" y="1051.2" width="28.0" height="13.1" rx="6.5" fill="rgba(0,0,30,0.25)"/>
<rect x="391.6" y="982.1" width="13.1" height="15.9" rx="6.5" fill="rgba(0,0,30,0.25)"/>
<rect x="391.6" y="989.6" width="33.2" height="15.9" rx="6.5" fill="rgba(0,0,30,0.25)"/>
<rect x="392.4" y="1065.8" width="17.4" height="15.0" rx="6.5" fill="rgba(0,0,30,0.25)"/>
<rect x="464.3" y="669.5" width="16.5" height="22.1" rx="6.5" fill="rgba(0,0,30,0.25)"/>
<rect x="451.7" y="743.3" width="30.5" height="20.7" rx="6.5" fill="rgba(0,0,30,0.25)"/>
<rect x="476.5" y="400.5" width="28.5" height="19.0" rx="6.5" fill="rgba(0,0,30,0.25)"/>
<rect x="476.0" y="421.2" width="29.0" height="19.1" rx="6.5" fill="rgba(0,0,30,0.25)"/>
<rect x="476.5" y="447.4" width="25.3" height="17.8" rx="6.5" fill="rgba(0,0,30,0.25)"/>
<rect x="477.5" y="459.6" width="20.9" height="18.7" rx="6.5" fill="rgba(0,0,30,0.25)"/>
<rect x="471.8" y="492.0" width="22.5" height="20.0" rx="6.5" fill="rgba(0,0,30,0.25)"/>
<rect x="473.2" y="537.3" width="19.2" height="20.6" rx="6.5" fill="rgba(0,0,30,0.25)"/>
<rect x="464.3" y="580.4" width="30.0" height="20.6" rx="6.5" fill="rgba(0,0,30,0.25)"/>
<rect x="498.9" y="155.5" width="28.0" height="22.5" rx="6.5" fill="rgba(0,0,30,0.25)"/>
<rect x="491.1" y="174.9" width="33.1" height="23.2" rx="6.5" fill="rgba(0,0,30,0.25)"/>
<rect x="498.9" y="193.8" width="28.4" height="22.2" rx="6.5" fill="rgba(0,0,30,0.25)"/>
<rect x="548.0" y="176.6" width="28.0" height="22.5" rx="6.5" fill="rgba(0,0,30,0.25)"/>
<rect x="599.7" y="395.0" width="71.7" height="22.8" rx="6.5" fill="rgba(0,0,30,0.25)"/>
</g>
<rect x="119.7" y="1254.5" width="3.8999999999999915" height="3.599999999999909" rx="1.8" fill="rgba(0,0,0,0.35)" stroke="#000" stroke-width="1.3"/>
<rect x="119.6" y="1256.2" width="4.400000000000006" height="3.599999999999909" rx="1.8" fill="rgba(0,0,0,0.35)" stroke="#000" stroke-width="1.3"/>
<rect x="120.1" y="1257.9" width="4.300000000000011" height="3.599999999999909" rx="1.8" fill="rgba(0,0,0,0.35)" stroke="#000" stroke-width="1.3"/>
<rect x="120.0" y="1259.6" width="5.700000000000003" height="3.6000000000001364" rx="1.8" fill="rgba(0,0,0,0.35)" stroke="#000" stroke-width="1.3"/>
<rect x="119.1" y="1261.3" width="5.800000000000011" height="3.6000000000001364" rx="1.8" fill="rgba(0,0,0,0.35)" stroke="#000" stroke-width="1.3"/>
<rect x="119.2" y="1263.0" width="5.799999999999997" height="3.599999999999909" rx="1.8" fill="rgba(0,0,0,0.35)" stroke="#000" stroke-width="1.3"/>
<rect x="119.1" y="1264.7" width="5.6000000000000085" height="3.599999999999909" rx="1.8" fill="rgba(0,0,0,0.35)" stroke="#000" stroke-width="1.3"/>
<rect x="120.2" y="1266.4" width="6.0" height="3.599999999999909" rx="1.8" fill="rgba(0,0,0,0.35)" stroke="#000" stroke-width="1.3"/>
<rect x="119.5" y="1268.1" width="7.099999999999994" height="3.6000000000001364" rx="1.8" fill="rgba(0,0,0,0.35)" stroke="#000" stroke-width="1.3"/>
<rect x="118.4" y="1269.8" width="7.3999999999999915" height="3.6000000000001364" rx="1.8" fill="rgba(0,0,0,0.35)" stroke="#000" stroke-width="1.3"/>
<rect x="119.3" y="1271.5" width="7.1000000000000085" height="3.599999999999909" rx="1.8" fill="rgba(0,0,0,0.35)" stroke="#000" stroke-width="1.3"/>
<rect x="119.3" y="1273.2" width="7.900000000000006" height="3.599999999999909" rx="1.8" fill="rgba(0,0,0,0.35)" stroke="#000" stroke-width="1.3"/>
<rect x="117.9" y="1274.9" width="8.399999999999991" height="3.599999999999909" rx="1.8" fill="rgba(0,0,0,0.35)" stroke="#000" stroke-width="1.3"/>
<rect x="118.8" y="1276.6" width="8.400000000000006" height="3.6000000000001364" rx="1.8" fill="rgba(0,0,0,0.35)" stroke="#000" stroke-width="1.3"/>
<line x1="101.2" y1="3.9" x2="1069.5" y2="3.9" stroke="#000" stroke-width="2"/>
<line x1="101.9" y1="2.9" x2="101.9" y2="1393.3" stroke="#000" stroke-width="2.4"/>
<line x1="1068.9" y1="3.9" x2="1068.9" y2="1386.1" stroke="#111" stroke-width="1.2"/>
<line x1="101.2" y1="1385.3" x2="1069.5" y2="1385.3" stroke="#222" stroke-width="1.6"/>
<line x1="102.2" y1="1360.5" x2="110.8" y2="1360.5" stroke="#0a0a0a" stroke-width="1.6"/>
<line x1="102.2" y1="1332.5" x2="110.8" y2="1332.5" stroke="#0a0a0a" stroke-width="1.6"/>
<line x1="102.2" y1="1304.6" x2="110.8" y2="1304.6" stroke="#0a0a0a" stroke-width="1.6"/>
<line x1="102.2" y1="1276.6" x2="110.8" y2="1276.6" stroke="#0a0a0a" stroke-width="1.6"/>
<line x1="102.2" y1="1248.6" x2="110.8" y2="1248.6" stroke="#0a0a0a" stroke-width="1.6"/>
<line x1="102.2" y1="1220.6" x2="110.8" y2="1220.6" stroke="#0a0a0a" stroke-width="1.6"/>
<line x1="102.2" y1="1192.6" x2="110.8" y2="1192.6" stroke="#0a0a0a" stroke-width="1.6"/>
<line x1="102.2" y1="1164.7" x2="110.8" y2="1164.7" stroke="#0a0a0a" stroke-width="1.6"/>
<line x1="102.2" y1="1136.7" x2="110.8" y2="1136.7" stroke="#0a0a0a" stroke-width="1.6"/>
<line x1="102.2" y1="1108.7" x2="117.5" y2="1108.7" stroke="#0a0a0a" stroke-width="2.2"/>
<line x1="102.2" y1="1080.7" x2="110.8" y2="1080.7" stroke="#0a0a0a" stroke-width="1.6"/>
<line x1="102.2" y1="1052.7" x2="110.8" y2="1052.7" stroke="#0a0a0a" stroke-width="1.6"/>
<line x1="102.2" y1="1024.8" x2="110.8" y2="1024.8" stroke="#0a0a0a" stroke-width="1.6"/>
<line x1="102.2" y1="996.8" x2="110.8" y2="996.8" stroke="#0a0a0a" stroke-width="1.6"/>
<line x1="102.2" y1="968.8" x2="110.8" y2="968.8" stroke="#0a0a0a" stroke-width="1.6"/>
<line x1="102.2" y1="940.8" x2="110.8" y2="940.8" stroke="#0a0a0a" stroke-width="1.6"/>
<line x1="102.2" y1="912.8" x2="110.8" y2="912.8" stroke="#0a0a0a" stroke-width="1.6"/>
<line x1="102.2" y1="884.9" x2="110.8" y2="884.9" stroke="#0a0a0a" stroke-width="1.6"/>
<line x1="102.2" y1="856.9" x2="110.8" y2="856.9" stroke="#0a0a0a" stroke-width="1.6"/>
<line x1="102.2" y1="828.9" x2="117.5" y2="828.9" stroke="#0a0a0a" stroke-width="2.2"/>
<line x1="102.2" y1="800.9" x2="110.8" y2="800.9" stroke="#0a0a0a" stroke-width="1.6"/>
<line x1="102.2" y1="772.9" x2="110.8" y2="772.9" stroke="#0a0a0a" stroke-width="1.6"/>
<line x1="102.2" y1="745.0" x2="110.8" y2="745.0" stroke="#0a0a0a" stroke-width="1.6"/>
<line x1="102.2" y1="717.0" x2="110.8" y2="717.0" stroke="#0a0a0a" stroke-width="1.6"/>
<line x1="102.2" y1="689.0" x2="110.8" y2="689.0" stroke="#0a0a0a" stroke-width="1.6"/>
<line x1="102.2" y1="661.0" x2="110.8" y2="661.0" stroke="#0a0a0a" stroke-width="1.6"/>
<line x1="102.2" y1="633.0" x2="110.8" y2="633.0" stroke="#0a0a0a" stroke-width="1.6"/>
<line x1="102.2" y1="605.1" x2="110.8" y2="605.1" stroke="#0a0a0a" stroke-width="1.6"/>
<line x1="102.2" y1="577.1" x2="110.8" y2="577.1" stroke="#0a0a0a" stroke-width="1.6"/>
<line x1="102.2" y1="549.1" x2="117.5" y2="549.1" stroke="#0a0a0a" stroke-width="2.2"/>
<line x1="102.2" y1="521.1" x2="110.8" y2="521.1" stroke="#0a0a0a" stroke-width="1.6"/>
<line x1="102.2" y1="493.1" x2="110.8" y2="493.1" stroke="#0a0a0a" stroke-width="1.6"/>
<line x1="102.2" y1="465.2" x2="110.8" y2="465.2" stroke="#0a0a0a" stroke-width="1.6"/>
<line x1="102.2" y1="437.2" x2="110.8" y2="437.2" stroke="#0a0a0a" stroke-width="1.6"/>
<line x1="102.2" y1="409.2" x2="110.8" y2="409.2" stroke="#0a0a0a" stroke-width="1.6"/>
<line x1="102.2" y1="381.2" x2="110.8" y2="381.2" stroke="#0a0a0a" stroke-width="1.6"/>
<line x1="102.2" y1="353.2" x2="110.8" y2="353.2" stroke="#0a0a0a" stroke-width="1.6"/>
<line x1="102.2" y1="325.3" x2="110.8" y2="325.3" stroke="#0a0a0a" stroke-width="1.6"/>
<line x1="102.2" y1="297.3" x2="110.8" y2="297.3" stroke="#0a0a0a" stroke-width="1.6"/>
<line x1="102.2" y1="269.3" x2="117.5" y2="269.3" stroke="#0a0a0a" stroke-width="2.2"/>
<line x1="102.2" y1="241.3" x2="110.8" y2="241.3" stroke="#0a0a0a" stroke-width="1.6"/>
<line x1="102.2" y1="213.3" x2="110.8" y2="213.3" stroke="#0a0a0a" stroke-width="1.6"/>
<line x1="102.2" y1="185.4" x2="110.8" y2="185.4" stroke="#0a0a0a" stroke-width="1.6"/>
<line x1="102.2" y1="157.4" x2="110.8" y2="157.4" stroke="#0a0a0a" stroke-width="1.6"/>
<line x1="102.2" y1="129.4" x2="110.8" y2="129.4" stroke="#0a0a0a" stroke-width="1.6"/>
<line x1="102.2" y1="101.4" x2="110.8" y2="101.4" stroke="#0a0a0a" stroke-width="1.6"/>
<line x1="102.2" y1="73.4" x2="110.8" y2="73.4" stroke="#0a0a0a" stroke-width="1.6"/>
<line x1="102.2" y1="45.5" x2="110.8" y2="45.5" stroke="#0a0a0a" stroke-width="1.6"/>
<line x1="102.2" y1="17.5" x2="110.8" y2="17.5" stroke="#0a0a0a" stroke-width="1.6"/>
<text x="96.6" y="1106.8" font-size="22" text-anchor="end">1.2</text>
<text x="96.6" y="829.7" font-size="22" text-anchor="end">1.4</text>
<text x="96.6" y="552.6" font-size="22" text-anchor="end">1.6</text>
<text x="96.6" y="275.5" font-size="22" text-anchor="end">1.8</text>
<text transform="translate(45.3,718.6) rotate(-90)" font-size="25.5" text-anchor="middle" textLength="241" lengthAdjust="spacingAndGlyphs">Radiocarbon level (F<tspan font-size="14" dy="-8.5">14</tspan><tspan dy="8.5">C)</tspan></text>
<text x="12" y="34.7" font-size="42.5">A</text>
<text x="131.8" y="1405.6" font-size="22" text-anchor="middle">1957</text>
<text x="191.9" y="1405.6" font-size="22" text-anchor="middle">1958</text>
<text x="252.0" y="1405.6" font-size="22" text-anchor="middle">1959</text>
<text x="312.1" y="1405.6" font-size="22" text-anchor="middle">1960</text>
<text x="372.2" y="1405.6" font-size="22" text-anchor="middle">1961</text>
<text x="432.3" y="1405.6" font-size="22" text-anchor="middle">1962</text>
<text x="492.4" y="1405.6" font-size="22" text-anchor="middle">1963</text>
<text x="552.5" y="1405.6" font-size="22" text-anchor="middle">1964</text>
<text x="612.6" y="1405.6" font-size="22" text-anchor="middle">1965</text>
<text x="672.7" y="1405.6" font-size="22" text-anchor="middle">1966</text>
<text x="732.8" y="1405.6" font-size="22" text-anchor="middle">1967</text>
<text x="792.9" y="1405.6" font-size="22" text-anchor="middle">1968</text>
<text x="853.0" y="1405.6" font-size="22" text-anchor="middle">1969</text>
<text x="913.1" y="1405.6" font-size="22" text-anchor="middle">1970</text>
<text x="973.2" y="1405.6" font-size="22" text-anchor="middle">1971</text>
<text x="588.5" y="1424.4" font-size="18.5" text-anchor="middle" textLength="45" lengthAdjust="spacingAndGlyphs">Year</text>
<line x1="115.4" y1="1428.6" x2="1068.9" y2="1428.6" stroke="#8c8c8c" stroke-width="1.3"/>
<line x1="115.4" y1="1497.4" x2="1068.9" y2="1497.4" stroke="#8c8c8c" stroke-width="1.3"/>
<line x1="115.4" y1="1566.2" x2="1068.9" y2="1566.2" stroke="#8c8c8c" stroke-width="1.3"/>
<line x1="115.4" y1="1635" x2="1068.9" y2="1635" stroke="#8c8c8c" stroke-width="1.3"/>
<line x1="115.4" y1="1704.3" x2="1068.9" y2="1704.3" stroke="#8c8c8c" stroke-width="1.3"/>
<line x1="122.5" y1="1414" x2="122.5" y2="1704.3" stroke="#7c7c7c" stroke-width="1.2"/>
<path d="M127.3,1588.8 V1612.0 M122.3,1588.8 h10 M122.3,1612.0 h10" stroke="#111" stroke-width="1.1" fill="none"/>
<path d="M138.9,1525.5 V1611.2 M133.9,1525.5 h10 M133.9,1611.2 h10" stroke="#111" stroke-width="1.1" fill="none"/>
<path d="M160.5,1498.5 V1520.8 M155.5,1498.5 h10 M155.5,1520.8 h10" stroke="#111" stroke-width="1.1" fill="none"/>
<path d="M181.3,1462.2 V1488.0 M176.3,1462.2 h10 M176.3,1488.0 h10" stroke="#111" stroke-width="1.1" fill="none"/>
<path d="M203.7,1466.6 V1488.7 M198.7,1466.6 h10 M198.7,1488.7 h10" stroke="#111" stroke-width="1.1" fill="none"/>
<path d="M214.5,1489.5 V1526.0 M209.5,1489.5 h10 M209.5,1526.0 h10" stroke="#111" stroke-width="1.1" fill="none"/>
<path d="M225.4,1546.7 V1596.8 M220.4,1546.7 h10 M220.4,1596.8 h10" stroke="#111" stroke-width="1.1" fill="none"/>
<path d="M236.6,1570.0 V1602.6 M231.6,1570.0 h10 M231.6,1602.6 h10" stroke="#111" stroke-width="1.1" fill="none"/>
<path d="M258.2,1422.4 V1466.0 M253.2,1422.4 h10 M253.2,1466.0 h10" stroke="#111" stroke-width="1.1" fill="none"/>
<path d="M279.8,1592.5 V1610.3 M274.8,1592.5 h10 M274.8,1610.3 h10" stroke="#111" stroke-width="1.1" fill="none"/>
<path d="M301.8,1551.2 V1573.6 M296.8,1551.2 h10 M296.8,1573.6 h10" stroke="#111" stroke-width="1.1" fill="none"/>
<path d="M312.6,1642.6 V1659.0 M307.6,1642.6 h10 M307.6,1659.0 h10" stroke="#111" stroke-width="1.1" fill="none"/>
<path d="M323.4,1606.2 V1619.8 M318.4,1606.2 h10 M318.4,1619.8 h10" stroke="#111" stroke-width="1.1" fill="none"/>
<path d="M334.6,1610.2 V1623.0 M329.6,1610.2 h10 M329.6,1623.0 h10" stroke="#111" stroke-width="1.1" fill="none"/>
<path d="M345.0,1582.9 V1600.7 M340.0,1582.9 h10 M340.0,1600.7 h10" stroke="#111" stroke-width="1.1" fill="none"/>
<path d="M356.2,1541.2 V1599.1 M351.2,1541.2 h10 M351.2,1599.1 h10" stroke="#111" stroke-width="1.1" fill="none"/>
<path d="M367.0,1635.2 V1653.4 M362.0,1635.2 h10 M362.0,1653.4 h10" stroke="#111" stroke-width="1.1" fill="none"/>
<path d="M410.7,1536.6 V1601.5 M405.7,1536.6 h10 M405.7,1601.5 h10" stroke="#111" stroke-width="1.1" fill="none"/>
<path d="M421.5,1606.4 V1644.6 M416.5,1606.4 h10 M416.5,1644.6 h10" stroke="#111" stroke-width="1.1" fill="none"/>
<path d="M432.3,1597.9 V1636.9 M427.3,1597.9 h10 M427.3,1636.9 h10" stroke="#111" stroke-width="1.1" fill="none"/>
<path d="M442.7,1548.0 V1565.8 M437.7,1548.0 h10 M437.7,1565.8 h10" stroke="#111" stroke-width="1.1" fill="none"/>
<path d="M486.3,1521.4 V1543.5 M481.3,1521.4 h10 M481.3,1543.5 h10" stroke="#111" stroke-width="1.1" fill="none"/>
<path d="M497.1,1526.7 V1542.9 M492.1,1526.7 h10 M492.1,1542.9 h10" stroke="#111" stroke-width="1.1" fill="none"/>
<path d="M507.9,1504.5 V1520.3 M502.9,1504.5 h10 M502.9,1520.3 h10" stroke="#111" stroke-width="1.1" fill="none"/>
<path d="M519.2,1498.8 V1517.5 M514.2,1498.8 h10 M514.2,1517.5 h10" stroke="#111" stroke-width="1.1" fill="none"/>
<path d="M530.4,1497.3 V1514.9 M525.4,1497.3 h10 M525.4,1514.9 h10" stroke="#111" stroke-width="1.1" fill="none"/>
<path d="M541.2,1475.1 V1498.8 M536.2,1475.1 h10 M536.2,1498.8 h10" stroke="#111" stroke-width="1.1" fill="none"/>
<path d="M562.8,1579.2 V1638.0 M557.8,1579.2 h10 M557.8,1638.0 h10" stroke="#111" stroke-width="1.1" fill="none"/>
<path d="M573.6,1575.8 V1616.1 M568.6,1575.8 h10 M568.6,1616.1 h10" stroke="#111" stroke-width="1.1" fill="none"/>
<path d="M584.4,1582.1 V1617.7 M579.4,1582.1 h10 M579.4,1617.7 h10" stroke="#111" stroke-width="1.1" fill="none"/>
<path d="M606.0,1572.9 V1584.9 M601.0,1572.9 h10 M601.0,1584.9 h10" stroke="#111" stroke-width="1.1" fill="none"/>
<path d="M616.9,1528.3 V1542.3 M611.9,1528.3 h10 M611.9,1542.3 h10" stroke="#111" stroke-width="1.1" fill="none"/>
<path d="M660.5,1538.4 V1594.1 M655.5,1538.4 h10 M655.5,1594.1 h10" stroke="#111" stroke-width="1.1" fill="none"/>
<path d="M682.5,1569.7 V1585.3 M677.5,1569.7 h10 M677.5,1585.3 h10" stroke="#111" stroke-width="1.1" fill="none"/>
<path d="M703.7,1497.7 V1511.5 M698.7,1497.7 h10 M698.7,1511.5 h10" stroke="#111" stroke-width="1.1" fill="none"/>
<path d="M736.9,1493.2 V1551.8 M731.9,1493.2 h10 M731.9,1551.8 h10" stroke="#111" stroke-width="1.1" fill="none"/>
<path d="M747.3,1586.5 V1603.5 M742.3,1586.5 h10 M742.3,1603.5 h10" stroke="#111" stroke-width="1.1" fill="none"/>
<path d="M779.8,1500.3 V1519.8 M774.8,1500.3 h10 M774.8,1519.8 h10" stroke="#111" stroke-width="1.1" fill="none"/>
<path d="M802.2,1505.3 V1519.7 M797.2,1505.3 h10 M797.2,1519.7 h10" stroke="#111" stroke-width="1.1" fill="none"/>
<path d="M823.8,1601.8 V1618.3 M818.8,1601.8 h10 M818.8,1618.3 h10" stroke="#111" stroke-width="1.1" fill="none"/>
<path d="M845.4,1563.5 V1573.5 M840.4,1563.5 h10 M840.4,1573.5 h10" stroke="#111" stroke-width="1.1" fill="none"/>
<path d="M878.2,1620.0 V1652.9 M873.2,1620.0 h10 M873.2,1652.9 h10" stroke="#111" stroke-width="1.1" fill="none"/>
<path d="M889.0,1558.6 V1580.2 M884.0,1558.6 h10 M884.0,1580.2 h10" stroke="#111" stroke-width="1.1" fill="none"/>
<path d="M910.7,1497.0 V1546.9 M905.7,1497.0 h10 M905.7,1546.9 h10" stroke="#111" stroke-width="1.1" fill="none"/>
<path d="M932.7,1514.2 V1612.9 M927.7,1514.2 h10 M927.7,1612.9 h10" stroke="#111" stroke-width="1.1" fill="none"/>
<path d="M943.5,1512.8 V1631.6 M938.5,1512.8 h10 M938.5,1631.6 h10" stroke="#111" stroke-width="1.1" fill="none"/>
<path d="M965.1,1569.2 V1604.6 M960.1,1569.2 h10 M960.1,1604.6 h10" stroke="#111" stroke-width="1.1" fill="none"/>
<path d="M975.9,1500.2 V1571.3 M970.9,1500.2 h10 M970.9,1571.3 h10" stroke="#111" stroke-width="1.1" fill="none"/>
<path d="M997.9,1506.1 V1564.3 M992.9,1506.1 h10 M992.9,1564.3 h10" stroke="#111" stroke-width="1.1" fill="none"/>
<path d="M1008.7,1523.1 V1553.4 M1003.7,1523.1 h10 M1003.7,1553.4 h10" stroke="#111" stroke-width="1.1" fill="none"/>
<path d="M1019.5,1571.5 V1627.3 M1014.5,1571.5 h10 M1014.5,1627.3 h10" stroke="#111" stroke-width="1.1" fill="none"/>
<path d="M1030.7,1543.8 V1566.7 M1025.7,1543.8 h10 M1025.7,1566.7 h10" stroke="#111" stroke-width="1.1" fill="none"/>
<path d="M1063.2,1522.2 V1548.4 M1058.2,1522.2 h10 M1058.2,1548.4 h10" stroke="#111" stroke-width="1.1" fill="none"/>
<polyline points="127.3,1599.8 138.9,1568.1 149.7,1497.3 160.5,1508.9 171.3,1538.1 181.3,1474.9 192.5,1467.3 203.7,1477.3 214.5,1507.7 225.4,1571.3 236.6,1586.1 247.0,1510.5 258.2,1444.1 269.0,1588.1 279.8,1601.0 290.6,1580.9 301.8,1561.7 312.6,1650.2 323.4,1613.0 334.6,1617.0 345.0,1591.4 356.2,1569.7 367.0,1644.2 377.9,1554.9 388.3,1576.9 399.1,1557.7 410.7,1568.9 421.5,1625.4 432.3,1617.4 442.7,1556.5 453.5,1548.5 464.3,1542.9 475.1,1531.3 486.3,1532.1 497.1,1534.9 507.9,1512.5 519.2,1508.5 530.4,1506.1 541.2,1486.1 552.4,1483.7 562.8,1608.6 573.6,1596.2 584.4,1599.4 595.2,1588.9 606.0,1578.9 616.9,1535.3 628.1,1535.3 638.9,1490.1 650.1,1496.1 660.5,1566.1 671.3,1572.9 682.5,1577.3 692.9,1546.1 703.7,1504.5 714.9,1496.5 725.7,1504.5 736.9,1522.1 747.3,1595.0 758.5,1575.3 769.0,1537.3 779.8,1510.1 791.0,1500.9 802.2,1512.1 813.0,1514.1 823.8,1609.8 834.6,1578.1 845.4,1568.5 856.2,1537.3 867.0,1523.3 878.2,1637.0 889.0,1568.9 899.8,1551.3 910.7,1521.3 921.5,1501.3 932.7,1563.7 943.5,1571.3 954.3,1621.0 965.1,1586.9 975.9,1535.3 986.7,1483.3 997.9,1534.9 1008.7,1538.1 1019.5,1599.4 1030.7,1555.7 1041.1,1608.2 1052.3,1573.3 1063.2,1535.3" fill="none" stroke="#050505" stroke-width="4.7" stroke-linejoin="round"/>
<path d="M127.3,1591.1 L135.8,1599.8 L127.3,1608.5 L118.8,1599.8 Z" fill="#0a0a0a"/>
<path d="M138.9,1559.4 L147.4,1568.1 L138.9,1576.8 L130.4,1568.1 Z" fill="#0a0a0a"/>
<path d="M149.7,1488.6 L158.2,1497.3 L149.7,1506.0 L141.2,1497.3 Z" fill="#0a0a0a"/>
<path d="M160.5,1500.2 L169.0,1508.9 L160.5,1517.6 L152.0,1508.9 Z" fill="#0a0a0a"/>
<path d="M171.3,1529.4 L179.8,1538.1 L171.3,1546.8 L162.8,1538.1 Z" fill="#0a0a0a"/>
<path d="M181.3,1466.2 L189.8,1474.9 L181.3,1483.6 L172.8,1474.9 Z" fill="#0a0a0a"/>
<path d="M192.5,1458.6 L201.0,1467.3 L192.5,1476.0 L184.0,1467.3 Z" fill="#0a0a0a"/>
<path d="M203.7,1468.6 L212.2,1477.3 L203.7,1486.0 L195.2,1477.3 Z" fill="#0a0a0a"/>
<path d="M214.5,1499.0 L223.0,1507.7 L214.5,1516.4 L206.0,1507.7 Z" fill="#0a0a0a"/>
<path d="M225.4,1562.6 L233.9,1571.3 L225.4,1580.0 L216.9,1571.3 Z" fill="#0a0a0a"/>
<path d="M236.6,1577.4 L245.1,1586.1 L236.6,1594.8 L228.1,1586.1 Z" fill="#0a0a0a"/>
<path d="M247.0,1501.8 L255.5,1510.5 L247.0,1519.2 L238.5,1510.5 Z" fill="#0a0a0a"/>
<path d="M258.2,1435.4 L266.7,1444.1 L258.2,1452.8 L249.7,1444.1 Z" fill="#0a0a0a"/>
<path d="M269.0,1579.4 L277.5,1588.1 L269.0,1596.8 L260.5,1588.1 Z" fill="#0a0a0a"/>
<path d="M279.8,1592.3 L288.3,1601.0 L279.8,1609.7 L271.3,1601.0 Z" fill="#0a0a0a"/>
<path d="M290.6,1572.2 L299.1,1580.9 L290.6,1589.6 L282.1,1580.9 Z" fill="#0a0a0a"/>
<path d="M301.8,1553.0 L310.3,1561.7 L301.8,1570.4 L293.3,1561.7 Z" fill="#0a0a0a"/>
<path d="M312.6,1641.5 L321.1,1650.2 L312.6,1658.9 L304.1,1650.2 Z" fill="#0a0a0a"/>
<path d="M323.4,1604.3 L331.9,1613.0 L323.4,1621.7 L314.9,1613.0 Z" fill="#0a0a0a"/>
<path d="M334.6,1608.3 L343.1,1617.0 L334.6,1625.7 L326.1,1617.0 Z" fill="#0a0a0a"/>
<path d="M345.0,1582.7 L353.5,1591.4 L345.0,1600.1 L336.5,1591.4 Z" fill="#0a0a0a"/>
<path d="M356.2,1561.0 L364.7,1569.7 L356.2,1578.4 L347.7,1569.7 Z" fill="#0a0a0a"/>
<path d="M367.0,1635.5 L375.5,1644.2 L367.0,1652.9 L358.5,1644.2 Z" fill="#0a0a0a"/>
<path d="M377.9,1546.2 L386.4,1554.9 L377.9,1563.6 L369.4,1554.9 Z" fill="#0a0a0a"/>
<path d="M388.3,1568.2 L396.8,1576.9 L388.3,1585.6 L379.8,1576.9 Z" fill="#0a0a0a"/>
<path d="M399.1,1549.0 L407.6,1557.7 L399.1,1566.4 L390.6,1557.7 Z" fill="#0a0a0a"/>
<path d="M410.7,1560.2 L419.2,1568.9 L410.7,1577.6 L402.2,1568.9 Z" fill="#0a0a0a"/>
<path d="M421.5,1616.7 L430.0,1625.4 L421.5,1634.1 L413.0,1625.4 Z" fill="#0a0a0a"/>
<path d="M432.3,1608.7 L440.8,1617.4 L432.3,1626.1 L423.8,1617.4 Z" fill="#0a0a0a"/>
<path d="M442.7,1547.8 L451.2,1556.5 L442.7,1565.2 L434.2,1556.5 Z" fill="#0a0a0a"/>
<path d="M453.5,1539.8 L462.0,1548.5 L453.5,1557.2 L445.0,1548.5 Z" fill="#0a0a0a"/>
<path d="M464.3,1534.2 L472.8,1542.9 L464.3,1551.6 L455.8,1542.9 Z" fill="#0a0a0a"/>
<path d="M475.1,1522.6 L483.6,1531.3 L475.1,1540.0 L466.6,1531.3 Z" fill="#0a0a0a"/>
<path d="M486.3,1523.4 L494.8,1532.1 L486.3,1540.8 L477.8,1532.1 Z" fill="#0a0a0a"/>
<path d="M497.1,1526.2 L505.6,1534.9 L497.1,1543.6 L488.6,1534.9 Z" fill="#0a0a0a"/>
<path d="M507.9,1503.8 L516.4,1512.5 L507.9,1521.2 L499.4,1512.5 Z" fill="#0a0a0a"/>
<path d="M519.2,1499.8 L527.7,1508.5 L519.2,1517.2 L510.7,1508.5 Z" fill="#0a0a0a"/>
<path d="M530.4,1497.4 L538.9,1506.1 L530.4,1514.8 L521.9,1506.1 Z" fill="#0a0a0a"/>
<path d="M541.2,1477.4 L549.7,1486.1 L541.2,1494.8 L532.7,1486.1 Z" fill="#0a0a0a"/>
<path d="M552.4,1475.0 L560.9,1483.7 L552.4,1492.4 L543.9,1483.7 Z" fill="#0a0a0a"/>
<path d="M562.8,1599.9 L571.3,1608.6 L562.8,1617.3 L554.3,1608.6 Z" fill="#0a0a0a"/>
<path d="M573.6,1587.5 L582.1,1596.2 L573.6,1604.9 L565.1,1596.2 Z" fill="#0a0a0a"/>
<path d="M584.4,1590.7 L592.9,1599.4 L584.4,1608.1 L575.9,1599.4 Z" fill="#0a0a0a"/>
<path d="M595.2,1580.2 L603.7,1588.9 L595.2,1597.6 L586.7,1588.9 Z" fill="#0a0a0a"/>
<path d="M606.0,1570.2 L614.5,1578.9 L606.0,1587.6 L597.5,1578.9 Z" fill="#0a0a0a"/>
<path d="M616.9,1526.6 L625.4,1535.3 L616.9,1544.0 L608.4,1535.3 Z" fill="#0a0a0a"/>
<path d="M628.1,1526.6 L636.6,1535.3 L628.1,1544.0 L619.6,1535.3 Z" fill="#0a0a0a"/>
<path d="M638.9,1481.4 L647.4,1490.1 L638.9,1498.8 L630.4,1490.1 Z" fill="#0a0a0a"/>
<path d="M650.1,1487.4 L658.6,1496.1 L650.1,1504.8 L641.6,1496.1 Z" fill="#0a0a0a"/>
<path d="M660.5,1557.4 L669.0,1566.1 L660.5,1574.8 L652.0,1566.1 Z" fill="#0a0a0a"/>
<path d="M671.3,1564.2 L679.8,1572.9 L671.3,1581.6 L662.8,1572.9 Z" fill="#0a0a0a"/>
<path d="M682.5,1568.6 L691.0,1577.3 L682.5,1586.0 L674.0,1577.3 Z" fill="#0a0a0a"/>
<path d="M692.9,1537.4 L701.4,1546.1 L692.9,1554.8 L684.4,1546.1 Z" fill="#0a0a0a"/>
<path d="M703.7,1495.8 L712.2,1504.5 L703.7,1513.2 L695.2,1504.5 Z" fill="#0a0a0a"/>
<path d="M714.9,1487.8 L723.4,1496.5 L714.9,1505.2 L706.4,1496.5 Z" fill="#0a0a0a"/>
<path d="M725.7,1495.8 L734.2,1504.5 L725.7,1513.2 L717.2,1504.5 Z" fill="#0a0a0a"/>
<path d="M736.9,1513.4 L745.4,1522.1 L736.9,1530.8 L728.4,1522.1 Z" fill="#0a0a0a"/>
<path d="M747.3,1586.3 L755.8,1595.0 L747.3,1603.7 L738.8,1595.0 Z" fill="#0a0a0a"/>
<path d="M758.5,1566.6 L767.0,1575.3 L758.5,1584.0 L750.0,1575.3 Z" fill="#0a0a0a"/>
<path d="M769.0,1528.6 L777.5,1537.3 L769.0,1546.0 L760.5,1537.3 Z" fill="#0a0a0a"/>
<path d="M779.8,1501.4 L788.3,1510.1 L779.8,1518.8 L771.3,1510.1 Z" fill="#0a0a0a"/>
<path d="M791.0,1492.2 L799.5,1500.9 L791.0,1509.6 L782.5,1500.9 Z" fill="#0a0a0a"/>
<path d="M802.2,1503.4 L810.7,1512.1 L802.2,1520.8 L793.7,1512.1 Z" fill="#0a0a0a"/>
<path d="M813.0,1505.4 L821.5,1514.1 L813.0,1522.8 L804.5,1514.1 Z" fill="#0a0a0a"/>
<path d="M823.8,1601.1 L832.3,1609.8 L823.8,1618.5 L815.3,1609.8 Z" fill="#0a0a0a"/>
<path d="M834.6,1569.4 L843.1,1578.1 L834.6,1586.8 L826.1,1578.1 Z" fill="#0a0a0a"/>
<path d="M845.4,1559.8 L853.9,1568.5 L845.4,1577.2 L836.9,1568.5 Z" fill="#0a0a0a"/>
<path d="M856.2,1528.6 L864.7,1537.3 L856.2,1546.0 L847.7,1537.3 Z" fill="#0a0a0a"/>
<path d="M867.0,1514.6 L875.5,1523.3 L867.0,1532.0 L858.5,1523.3 Z" fill="#0a0a0a"/>
<path d="M878.2,1628.3 L886.7,1637.0 L878.2,1645.7 L869.7,1637.0 Z" fill="#0a0a0a"/>
<path d="M889.0,1560.2 L897.5,1568.9 L889.0,1577.6 L880.5,1568.9 Z" fill="#0a0a0a"/>
<path d="M899.8,1542.6 L908.3,1551.3 L899.8,1560.0 L891.3,1551.3 Z" fill="#0a0a0a"/>
<path d="M910.7,1512.6 L919.2,1521.3 L910.7,1530.0 L902.2,1521.3 Z" fill="#0a0a0a"/>
<path d="M921.5,1492.6 L930.0,1501.3 L921.5,1510.0 L913.0,1501.3 Z" fill="#0a0a0a"/>
<path d="M932.7,1555.0 L941.2,1563.7 L932.7,1572.4 L924.2,1563.7 Z" fill="#0a0a0a"/>
<path d="M943.5,1562.6 L952.0,1571.3 L943.5,1580.0 L935.0,1571.3 Z" fill="#0a0a0a"/>
<path d="M954.3,1612.3 L962.8,1621.0 L954.3,1629.7 L945.8,1621.0 Z" fill="#0a0a0a"/>
<path d="M965.1,1578.2 L973.6,1586.9 L965.1,1595.6 L956.6,1586.9 Z" fill="#0a0a0a"/>
<path d="M975.9,1526.6 L984.4,1535.3 L975.9,1544.0 L967.4,1535.3 Z" fill="#0a0a0a"/>
<path d="M986.7,1474.6 L995.2,1483.3 L986.7,1492.0 L978.2,1483.3 Z" fill="#0a0a0a"/>
<path d="M997.9,1526.2 L1006.4,1534.9 L997.9,1543.6 L989.4,1534.9 Z" fill="#0a0a0a"/>
<path d="M1008.7,1529.4 L1017.2,1538.1 L1008.7,1546.8 L1000.2,1538.1 Z" fill="#0a0a0a"/>
<path d="M1019.5,1590.7 L1028.0,1599.4 L1019.5,1608.1 L1011.0,1599.4 Z" fill="#0a0a0a"/>
<path d="M1030.7,1547.0 L1039.2,1555.7 L1030.7,1564.4 L1022.2,1555.7 Z" fill="#0a0a0a"/>
<path d="M1041.1,1599.5 L1049.6,1608.2 L1041.1,1616.9 L1032.6,1608.2 Z" fill="#0a0a0a"/>
<path d="M1052.3,1564.6 L1060.8,1573.3 L1052.3,1582.0 L1043.8,1573.3 Z" fill="#0a0a0a"/>
<path d="M1063.2,1526.6 L1071.7,1535.3 L1063.2,1544.0 L1054.7,1535.3 Z" fill="#0a0a0a"/>
<text x="87.3" y="1430.4" font-size="17.3" text-anchor="middle" textLength="24" lengthAdjust="spacingAndGlyphs">-22</text>
<text x="86.2" y="1498" font-size="17.3" text-anchor="middle" textLength="38.4" lengthAdjust="spacingAndGlyphs">-22.5</text>
<text x="87.3" y="1568.6" font-size="17.3" text-anchor="middle" textLength="24" lengthAdjust="spacingAndGlyphs">-23</text>
<text x="86.2" y="1638.5" font-size="17.3" text-anchor="middle" textLength="38.4" lengthAdjust="spacingAndGlyphs">-23.5</text>
<text x="87.3" y="1703" font-size="17.3" text-anchor="middle" textLength="24" lengthAdjust="spacingAndGlyphs">-24</text>
<text x="9.6" y="1458" font-size="40.8">B</text>
<text x="10" y="1529.2" font-size="23" textLength="43.5" lengthAdjust="spacingAndGlyphs">δ<tspan font-size="13" dy="-8">13</tspan><tspan dy="8">C</tspan></text>
<text x="1081" y="236.7" font-size="42.5">C</text>
<text x="1138.5" y="264.7" font-size="33" textLength="273.5" lengthAdjust="spacingAndGlyphs">Year according to:</text>
<text x="1080.5" y="302.7" font-size="24.5" textLength="134" lengthAdjust="spacingAndGlyphs">δ<tspan font-size="13.5" dy="-8">13</tspan><tspan dy="8">C pattern</tspan></text>
<text x="1356" y="302.7" font-size="24" textLength="140.5" lengthAdjust="spacingAndGlyphs">Radiocarbon</text>
<g>
<defs><linearGradient id="wg" x1="0" y1="-40" x2="0" y2="740" gradientUnits="userSpaceOnUse">
<stop offset="0.0385" stop-color="#8b6f56"/>
<stop offset="0.0769" stop-color="#8b7057"/>
<stop offset="0.0897" stop-color="#776251"/>
<stop offset="0.2051" stop-color="#766150"/>
<stop offset="0.2154" stop-color="#91765d"/>
<stop offset="0.2500" stop-color="#91765d"/>
<stop offset="0.2564" stop-color="#6a5647"/>
<stop offset="0.2718" stop-color="#6a5647"/>
<stop offset="0.2795" stop-color="#947a60"/>
<stop offset="0.3179" stop-color="#947a60"/>
<stop offset="0.3231" stop-color="#715c4c"/>
<stop offset="0.3410" stop-color="#715c4c"/>
<stop offset="0.3487" stop-color="#a2876a"/>
<stop offset="0.4513" stop-color="#9e8064"/>
<stop offset="0.4590" stop-color="#695445"/>
<stop offset="0.4769" stop-color="#695445"/>
<stop offset="0.4846" stop-color="#a98d72"/>
<stop offset="0.5564" stop-color="#a98d72"/>
<stop offset="0.5641" stop-color="#77604f"/>
<stop offset="0.6256" stop-color="#77604f"/>
<stop offset="0.6333" stop-color="#8f745c"/>
<stop offset="0.6487" stop-color="#8f745c"/>
<stop offset="0.6538" stop-color="#af9171"/>
<stop offset="0.7051" stop-color="#af9171"/>
<stop offset="0.7128" stop-color="#997d62"/>
<stop offset="0.7564" stop-color="#997d62"/>
<stop offset="0.7615" stop-color="#7e6550"/>
<stop offset="0.7795" stop-color="#7e6550"/>
<stop offset="0.7846" stop-color="#9b7f63"/>
<stop offset="0.8179" stop-color="#9b7f63"/>
<stop offset="0.8231" stop-color="#6c5647"/>
<stop offset="0.8359" stop-color="#6c5647"/>
<stop offset="0.8410" stop-color="#8f745c"/>
<stop offset="0.8769" stop-color="#8f745c"/>
<stop offset="0.8821" stop-color="#725c4b"/>
<stop offset="0.8936" stop-color="#725c4b"/>
<stop offset="0.8987" stop-color="#9c8165"/>
<stop offset="1.0000" stop-color="#9c8165"/>
</linearGradient>
<linearGradient id="sg" x1="0" y1="318" x2="0" y2="1056" gradientUnits="userSpaceOnUse"><stop offset="0" stop-color="#8f7b69"/><stop offset="0.35" stop-color="#957f69"/><stop offset="0.65" stop-color="#937a63"/><stop offset="1" stop-color="#8a705c"/></linearGradient>
<clipPath id="cpM"><path d="M1251.5,319.5 L1350,352.5 L1350,1041.7 L1267,1056.3 L1267,1000 L1266,920 L1264,820 L1261.5,720 L1258.5,620 L1255.5,520 L1253.5,420 Z"/></clipPath><clipPath id="cpS"><path d="M1227.8,318 L1253,320 L1255,420 L1257,520 L1260,620 L1263,720 L1265.5,820 L1267.5,920 L1268.5,1000 L1268.5,1056 Q1262,1056 1252,1047 Q1241,1040 1239.5,1030 L1238,900 L1236,700 L1232.5,500 L1229,380 Z"/></clipPath></defs>
<g clip-path="url(#cpM)"><g transform="translate(1253,320) skewY(14)"><rect x="0" y="-40" width="100" height="780" fill="url(#wg)" filter="url(#wood)"/></g></g>
<g clip-path="url(#cpS)"><rect x="1225" y="315" width="48" height="745" fill="url(#sg)" filter="url(#strip)"/></g>
<path d="M1253,320 L1350,352.5" stroke="#2a1d15" stroke-width="1.6" fill="none"/>
</g>
<line x1="1070" y1="311" x2="1487.6" y2="311" stroke="#000" stroke-width="2.1"/>
<line x1="1227.8" y1="275.5" x2="1227.8" y2="319" stroke="#000" stroke-width="1.8"/>
<line x1="1350" y1="275.5" x2="1350" y2="352.5" stroke="#000" stroke-width="1.8"/>
<line x1="1229" y1="359" x2="1254" y2="365.7" stroke="#1616b8" stroke-width="2"/>
<line x1="1230.7" y1="401.4" x2="1253.3" y2="408.8" stroke="#1616b8" stroke-width="2"/>
<line x1="1231.3" y1="434.5" x2="1256.2" y2="441.9" stroke="#1616b8" stroke-width="2"/>
<line x1="1231.3" y1="460.9" x2="1255.6" y2="467.3" stroke="#1616b8" stroke-width="2"/>
<line x1="1232.8" y1="504" x2="1256.8" y2="509.2" stroke="#1616b8" stroke-width="2"/>
<line x1="1232.8" y1="556" x2="1258.3" y2="564.3" stroke="#1616b8" stroke-width="2"/>
<line x1="1234.8" y1="663.9" x2="1262" y2="670.4" stroke="#1616b8" stroke-width="2"/>
<line x1="1239.2" y1="743.6" x2="1265" y2="748.3" stroke="#1616b8" stroke-width="2"/>
<line x1="1239.5" y1="794.3" x2="1264.1" y2="798" stroke="#1616b8" stroke-width="2"/>
<line x1="1241.6" y1="839" x2="1264.4" y2="846" stroke="#1616b8" stroke-width="2"/>
<line x1="1242.2" y1="886.5" x2="1264.1" y2="893.8" stroke="#1616b8" stroke-width="2"/>
<line x1="1242.2" y1="930.4" x2="1265" y2="936.3" stroke="#1616b8" stroke-width="2"/>
<line x1="1241" y1="973.8" x2="1265.9" y2="979.3" stroke="#1616b8" stroke-width="2"/>
<line x1="1241.6" y1="991" x2="1265.9" y2="997.2" stroke="#1616b8" stroke-width="2"/>
<line x1="1260" y1="357" x2="1345.5" y2="384.8" stroke="#fff" stroke-width="2.5" stroke-dasharray="5.8 3.4"/>
<line x1="1259" y1="399.4" x2="1345.5" y2="427.2" stroke="#fff" stroke-width="2.5" stroke-dasharray="5.8 3.4"/>
<line x1="1260.6" y1="434.5" x2="1346.4" y2="465.3" stroke="#fff" stroke-width="2.5" stroke-dasharray="5.8 3.4"/>
<line x1="1260.6" y1="461.8" x2="1348.5" y2="493.1" stroke="#fff" stroke-width="2.5" stroke-dasharray="5.8 3.4"/>
<line x1="1262" y1="494.6" x2="1348.5" y2="519.5" stroke="#fff" stroke-width="2.5" stroke-dasharray="5.8 3.4"/>
<line x1="1262" y1="510.7" x2="1348.5" y2="536.2" stroke="#fff" stroke-width="2.5" stroke-dasharray="5.8 3.4"/>
<line x1="1260" y1="545" x2="1348.5" y2="570.7" stroke="#fff" stroke-width="2.5" stroke-dasharray="5.8 3.4"/>
<line x1="1262" y1="565.4" x2="1348.5" y2="591.2" stroke="#fff" stroke-width="2.5" stroke-dasharray="5.8 3.4"/>
<line x1="1262" y1="655.7" x2="1350" y2="671.2" stroke="#fff" stroke-width="2.5" stroke-dasharray="5.8 3.4"/>
<line x1="1265.9" y1="731.3" x2="1348.5" y2="745.9" stroke="#fff" stroke-width="2.5" stroke-dasharray="5.8 3.4"/>
<line x1="1266.5" y1="748.9" x2="1348.5" y2="764.1" stroke="#fff" stroke-width="2.5" stroke-dasharray="5.8 3.4"/>
<line x1="1266.5" y1="790.7" x2="1350" y2="805.4" stroke="#fff" stroke-width="2.5" stroke-dasharray="5.8 3.4"/>
<line x1="1268.5" y1="846.1" x2="1348.5" y2="860.7" stroke="#fff" stroke-width="2.5" stroke-dasharray="5.8 3.4"/>
<line x1="1269.4" y1="863" x2="1348.5" y2="882.1" stroke="#fff" stroke-width="2.5" stroke-dasharray="5.8 3.4"/>
<line x1="1269.4" y1="893.2" x2="1348.5" y2="914.3" stroke="#fff" stroke-width="2.5" stroke-dasharray="5.8 3.4"/>
<line x1="1270.3" y1="926.9" x2="1348.5" y2="949.5" stroke="#fff" stroke-width="2.5" stroke-dasharray="5.8 3.4"/>
<line x1="1270.3" y1="970" x2="1348.5" y2="992" stroke="#fff" stroke-width="2.5" stroke-dasharray="5.8 3.4"/>
<line x1="1269.4" y1="986" x2="1348.5" y2="1007.5" stroke="#fff" stroke-width="2.5" stroke-dasharray="5.8 3.4"/>
<text x="1171" y="348" font-size="22.6" textLength="48.8" lengthAdjust="spacingAndGlyphs">1957</text>
<text x="1173.6" y="390.6" font-size="22.6" textLength="48.8" lengthAdjust="spacingAndGlyphs">1958</text>
<text x="1174.2" y="418.4" font-size="22.6" textLength="48.8" lengthAdjust="spacingAndGlyphs">1959</text>
<text x="1176.3" y="453" font-size="22.6" textLength="48.8" lengthAdjust="spacingAndGlyphs">1960</text>
<text x="1175.1" y="493.7" font-size="22.6" textLength="48.8" lengthAdjust="spacingAndGlyphs">1961</text>
<text x="1176.3" y="535.6" font-size="22.6" textLength="48.8" lengthAdjust="spacingAndGlyphs">1962</text>
<text x="1176.3" y="605.9" font-size="22.6" textLength="48.8" lengthAdjust="spacingAndGlyphs">1963</text>
<text x="1178" y="704.3" font-size="22.6" textLength="48.8" lengthAdjust="spacingAndGlyphs">1964</text>
<text x="1178.6" y="773.8" font-size="22.6" textLength="48.8" lengthAdjust="spacingAndGlyphs">1965</text>
<text x="1183.9" y="822.7" font-size="22.6" textLength="48.8" lengthAdjust="spacingAndGlyphs">1966</text>
<text x="1183.9" y="867.5" font-size="22.6" textLength="48.8" lengthAdjust="spacingAndGlyphs">1967</text>
<text x="1185.3" y="912" font-size="22.6" textLength="48.8" lengthAdjust="spacingAndGlyphs">1968</text>
<text x="1185.3" y="954.4" font-size="22.6" textLength="48.8" lengthAdjust="spacingAndGlyphs">1969</text>
<text x="1181.5" y="987.5" font-size="22.6" textLength="48.8" lengthAdjust="spacingAndGlyphs">1970</text>
<text x="1185.3" y="1015.4" font-size="22.6" textLength="48.8" lengthAdjust="spacingAndGlyphs">1971</text>
<text x="1357" y="374.5" font-size="22.8" textLength="109.5" lengthAdjust="spacingAndGlyphs" style="fill:#6e6e6e;stroke:#6e6e6e">1957-1958</text>
<text x="1357" y="411.7" font-size="22.6" textLength="48.8" lengthAdjust="spacingAndGlyphs">1958</text>
<text x="1354.3" y="452" font-size="22.8" textLength="109.5" lengthAdjust="spacingAndGlyphs" style="fill:#6e6e6e;stroke:#6e6e6e">1958-1962</text>
<text x="1354.3" y="486.4" font-size="22.8" textLength="109.5" lengthAdjust="spacingAndGlyphs" style="fill:#6e6e6e;stroke:#6e6e6e">1959-1962</text>
<text x="1353.7" y="514.5" font-size="22.8" textLength="109.5" lengthAdjust="spacingAndGlyphs" style="fill:#6e6e6e;stroke:#6e6e6e">1960-1962</text>
<text x="1353.7" y="535.6" font-size="22.8" textLength="109.5" lengthAdjust="spacingAndGlyphs" style="fill:#6e6e6e;stroke:#6e6e6e">1961-1962</text>
<text x="1356.4" y="562.5" font-size="22.6" textLength="48.8" lengthAdjust="spacingAndGlyphs">1962</text>
<text x="1354.3" y="587.4" font-size="22.8" textLength="109.5" lengthAdjust="spacingAndGlyphs" style="fill:#6e6e6e;stroke:#6e6e6e">1962-1963</text>
<text x="1354.3" y="635.5" font-size="22.6" textLength="48.8" lengthAdjust="spacingAndGlyphs">1963</text>
<text x="1356.4" y="713.1" font-size="22.8" textLength="109.5" lengthAdjust="spacingAndGlyphs" style="fill:#6e6e6e;stroke:#6e6e6e">1963-1964</text>
<text x="1357.2" y="762" font-size="22.8" textLength="109.5" lengthAdjust="spacingAndGlyphs" style="fill:#6e6e6e;stroke:#6e6e6e">1964-1965</text>
<text x="1353.7" y="793.4" font-size="22.8" textLength="109.5" lengthAdjust="spacingAndGlyphs" style="fill:#6e6e6e;stroke:#6e6e6e">1965-1966</text>
<text x="1353.7" y="839.6" font-size="22.8" textLength="109.5" lengthAdjust="spacingAndGlyphs" style="fill:#6e6e6e;stroke:#6e6e6e">1966-1967</text>
<text x="1354.3" y="875.7" font-size="22.6" textLength="48.8" lengthAdjust="spacingAndGlyphs">1967</text>
<text x="1351.4" y="902.6" font-size="22.8" textLength="109.5" lengthAdjust="spacingAndGlyphs" style="fill:#6e6e6e;stroke:#6e6e6e">1967-1968</text>
<text x="1351.4" y="936.9" font-size="22.8" textLength="109.5" lengthAdjust="spacingAndGlyphs" style="fill:#6e6e6e;stroke:#6e6e6e">1968-1969</text>
<text x="1353.7" y="976.4" font-size="22.8" textLength="109.5" lengthAdjust="spacingAndGlyphs" style="fill:#6e6e6e;stroke:#6e6e6e">1969-1970</text>
<text x="1355.2" y="1005.1" font-size="22.6" textLength="48.8" lengthAdjust="spacingAndGlyphs">1970</text>
<text x="1351.4" y="1036.4" font-size="22.8" textLength="109.5" lengthAdjust="spacingAndGlyphs" style="fill:#6e6e6e;stroke:#6e6e6e">1970-1971</text>
</svg></body></html>
